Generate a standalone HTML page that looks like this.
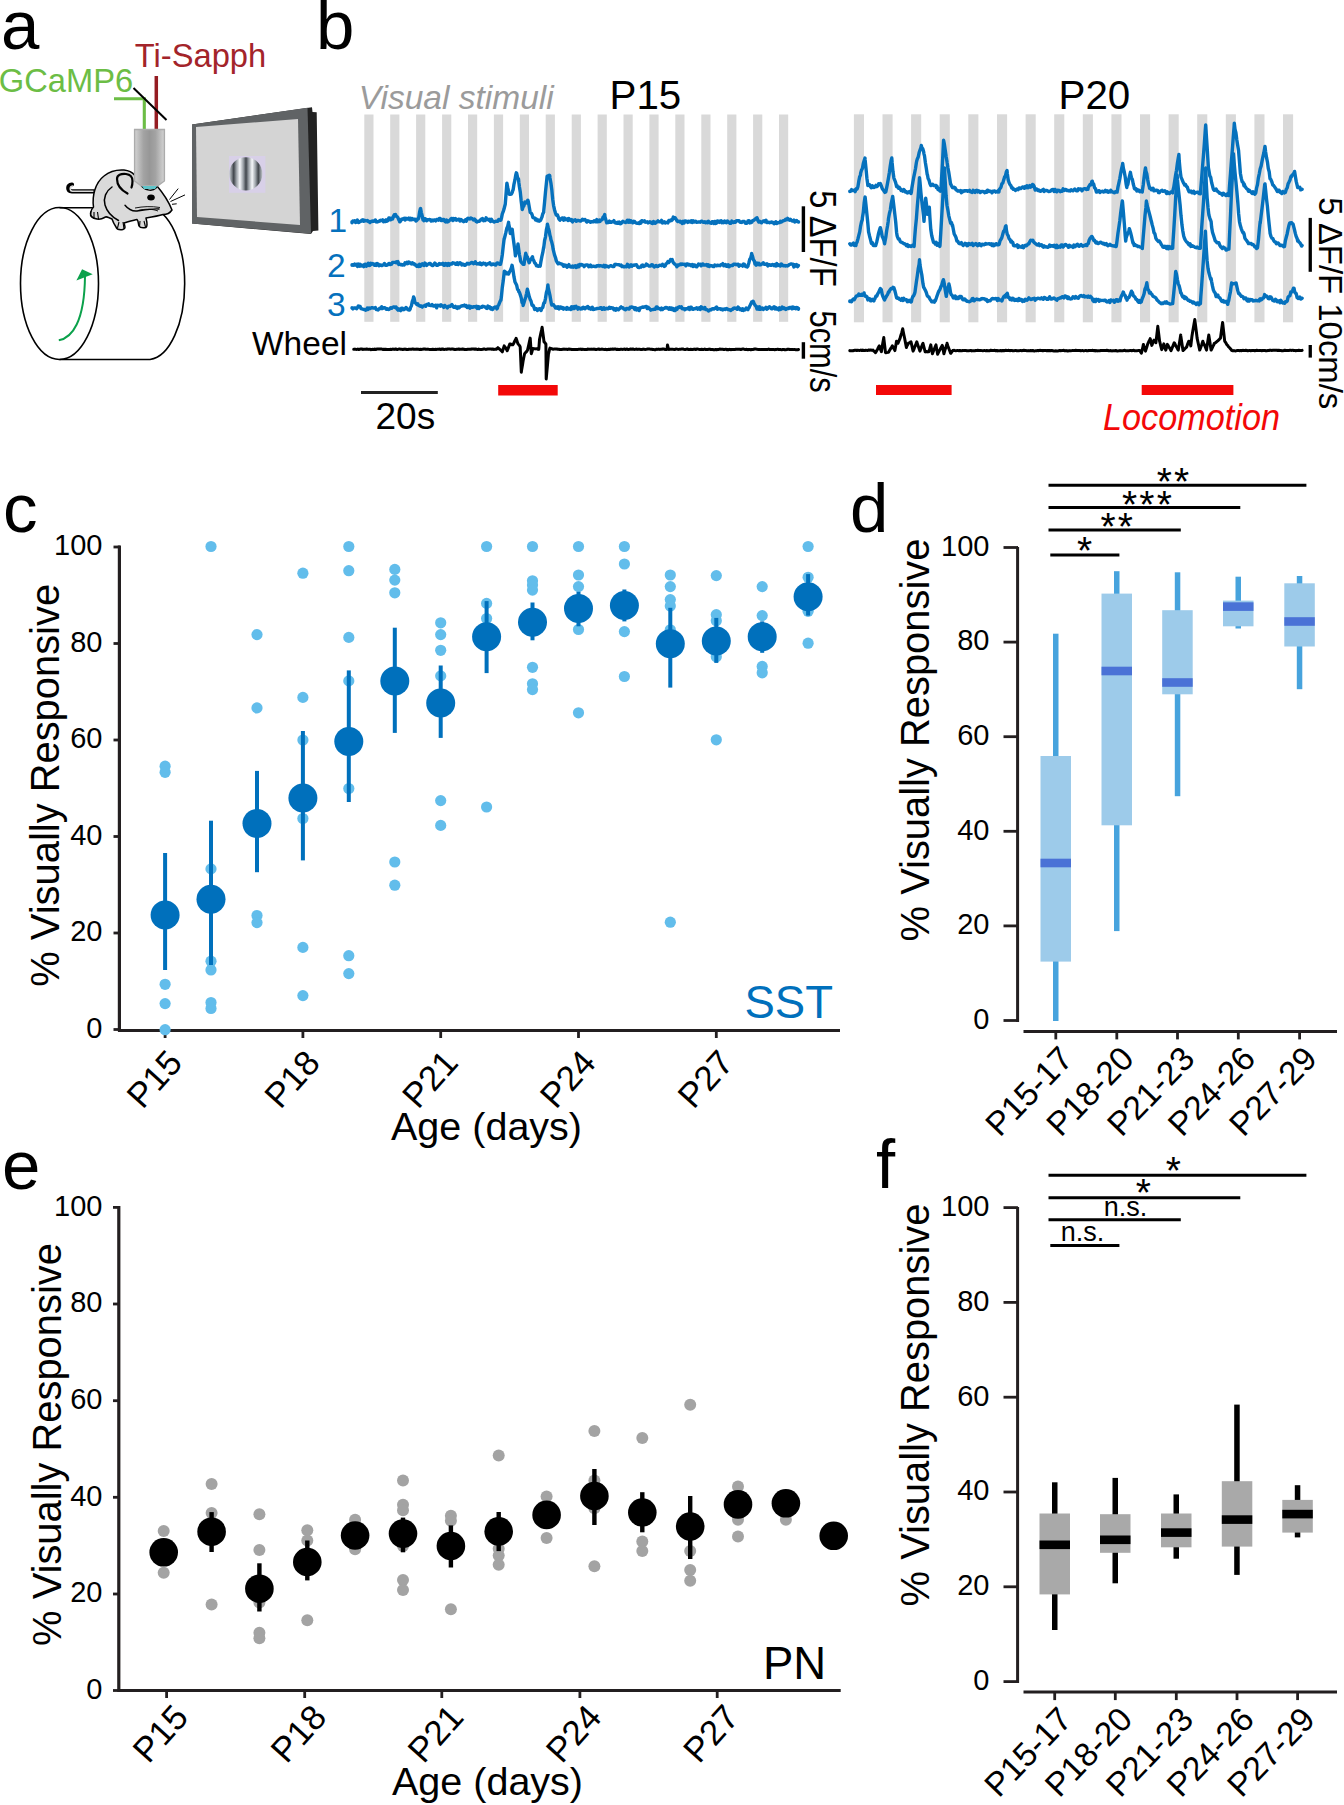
<!DOCTYPE html><html><head><meta charset="utf-8"><style>html,body{margin:0;padding:0;background:#fff;width:1344px;height:1805px;overflow:hidden}svg{display:block}text{font-family:"Liberation Sans",sans-serif}</style></head><body><svg width="1344" height="1805" viewBox="0 0 1344 1805" font-family="Liberation Sans, sans-serif">
<rect width="1344" height="1805" fill="#fff"/>
<text x="1" y="49" font-size="69" fill="#000" text-anchor="start" >a</text>
<text x="316" y="49" font-size="69" fill="#000" text-anchor="start" >b</text>
<text x="-1.3" y="92" font-size="32.7" fill="#6cbd45" text-anchor="start" >GCaMP6</text>
<text x="134.8" y="67.3" font-size="32.7" fill="#a3242a" text-anchor="start" >Ti-Sapph</text>
<path d="M114 98.8 H144.3 V130" fill="none" stroke="#6cbd45" stroke-width="3.1"/>
<path d="M156.3 76 V130" fill="none" stroke="#951c22" stroke-width="3.5"/>
<path d="M133.5 88 L166.5 120" fill="none" stroke="#000" stroke-width="2"/>
<path d="M192 124.5 L312 107.3 L312.5 112 L316.7 112.3 L318.4 230.6 L313 231 L311 234 L192 223.5 Z" fill="#222"/>
<path d="M192 124.5 L307.5 107.8 L311 233.8 L192 223.5 Z" fill="#606365"/>
<path d="M196 127 L298 119 L300 225 L197 217 Z" fill="#d4d4d4"/>
<rect x="229" y="156" width="36.4" height="36.8" fill="#d8d0e8"/>
<defs><linearGradient id="sine" gradientUnits="userSpaceOnUse" x1="233.7" y1="0" x2="246" y2="0" spreadMethod="repeat"><stop offset="0" stop-color="#40454b"/><stop offset="0.22" stop-color="#9aa0a6"/><stop offset="0.5" stop-color="#f6f8fb"/><stop offset="0.78" stop-color="#9aa0a6"/><stop offset="1" stop-color="#40454b"/></linearGradient></defs>
<circle cx="245.8" cy="173.8" r="16.6" fill="url(#sine)"/>
<g fill="none" stroke="#000" stroke-width="1.6"><ellipse cx="59.5" cy="283.5" rx="39" ry="76"/><path d="M59.5 207.8 H150 A37 76 0 0 1 150 359.5 H59.5"/></g>
<path d="M58.8 340.3 C72 338 84.5 322 85 276" fill="none" stroke="#0ba14b" stroke-width="2"/>
<path d="M76.4 280.6 L82.1 269.2 L92.7 274.2 Z" fill="#0ba14b"/>
<path d="M94 191.3 H72 C67 191 67 185 72 184.5" fill="none" stroke="#000" stroke-width="4.2" stroke-linecap="round"/>
<path d="M93 191.3 H72.5 C69.5 191 69.5 186.5 72.5 186" fill="none" stroke="#d9d9d9" stroke-width="1.6" stroke-linecap="round"/>
<path d="M93.5 207 C92 196 95 183 104 176 C110 171 117 169.5 124 170 C128 170.5 132 172 134.5 175 L141 185 C144 190 152 192 156 188 L157 186 C163 193 168 200 172 210 C170 213 166 214.5 163 214.5 C158 216 152 217 146 218 C147 222 148 226 146 227.5 C143 228 140 228 139 226 C138 223 138.5 221 137 219.5 C133 220.5 128 221.5 124 223 C125 226 126 229 123 229.5 C120 230 117 230 116 227 C114 224 113 222 112 219 C108 217 106 216 104.5 217.5 C102 219 100 219.5 97 219 C94 218.5 90 217 90.5 213 C91 210 92 208.5 93.5 207 Z" fill="#dadada" stroke="#000" stroke-width="1.5" stroke-linejoin="round"/>
<path d="M127.5 193.5 C121 190 117 185 117 179 C117 175 121 173.5 126 174 C130 174.5 132.5 177 132.5 181 C132.5 184 132 186 131.5 187.5" fill="none" stroke="#000" stroke-width="2.2" stroke-linecap="round"/>
<path d="M112 187 C106 191 103 198 105 205 C107 212 112 217 118.5 220.5" fill="none" stroke="#000" stroke-width="1.5" stroke-linecap="round"/>
<path d="M125 205.3 C128 209 131 211.5 137 211 C144 210 152 208.5 159 209" fill="none" stroke="#000" stroke-width="1.4" stroke-linecap="round"/>
<path d="M135 208 C143 206.5 151 206 160 207.5 M138 210.5 C146 208.5 153 209 158 211" fill="none" stroke="#000" stroke-width="0.9"/>
<ellipse cx="151" cy="197.5" rx="3.8" ry="3" fill="#000"/>
<path d="M169.5 199.5 L178.2 188.6 M170.5 201.5 L185 194.9 M172 204.3 L176.7 203.8" fill="none" stroke="#000" stroke-width="1"/>
<path d="M91 211 L90.5 216 M94 212 L94 218.5 M97.5 212 L98.5 219 M119 222 L117.5 228 M123 222 L124 229 M140 221 L139.5 227 M144 221 L145.5 227" fill="none" stroke="#000" stroke-width="1.1"/>
<defs><linearGradient id="obj" x1="0" x2="1" y1="0" y2="0"><stop offset="0" stop-color="#d4d4d4"/><stop offset="0.3" stop-color="#a3a3a3"/><stop offset="0.5" stop-color="#979797"/><stop offset="0.7" stop-color="#a3a3a3"/><stop offset="1" stop-color="#d4d4d4"/></linearGradient><radialGradient id="grat" cx="0.5" cy="0.5" r="0.5"><stop offset="0" stop-color="#888"/><stop offset="1" stop-color="#bbb"/></radialGradient></defs>
<path d="M134.6 129.5 H164.4 V181 L157.8 185.7 H141.1 L134.6 181 Z" fill="url(#obj)" stroke="#acacac" stroke-width="1.4"/>
<path d="M142 186 H157 L155 189 H144 Z" fill="#5fc4c9"/>
<rect x="364.3" y="114.5" width="9.2" height="207.3" fill="#d9d9d9"/><rect x="390.2" y="114.5" width="9.2" height="207.3" fill="#d9d9d9"/><rect x="416.1" y="114.5" width="9.2" height="207.3" fill="#d9d9d9"/><rect x="442.1" y="114.5" width="9.2" height="207.3" fill="#d9d9d9"/><rect x="468.0" y="114.5" width="9.2" height="207.3" fill="#d9d9d9"/><rect x="493.9" y="114.5" width="9.2" height="207.3" fill="#d9d9d9"/><rect x="519.8" y="114.5" width="9.2" height="207.3" fill="#d9d9d9"/><rect x="545.7" y="114.5" width="9.2" height="207.3" fill="#d9d9d9"/><rect x="571.7" y="114.5" width="9.2" height="207.3" fill="#d9d9d9"/><rect x="597.6" y="114.5" width="9.2" height="207.3" fill="#d9d9d9"/><rect x="623.5" y="114.5" width="9.2" height="207.3" fill="#d9d9d9"/><rect x="649.4" y="114.5" width="9.2" height="207.3" fill="#d9d9d9"/><rect x="675.3" y="114.5" width="9.2" height="207.3" fill="#d9d9d9"/><rect x="701.3" y="114.5" width="9.2" height="207.3" fill="#d9d9d9"/><rect x="727.2" y="114.5" width="9.2" height="207.3" fill="#d9d9d9"/><rect x="753.1" y="114.5" width="9.2" height="207.3" fill="#d9d9d9"/><rect x="779.0" y="114.5" width="9.2" height="207.3" fill="#d9d9d9"/><rect x="853.9" y="114.3" width="10.1" height="208" fill="#d9d9d9"/><rect x="882.5" y="114.3" width="10.1" height="208" fill="#d9d9d9"/><rect x="911.1" y="114.3" width="10.1" height="208" fill="#d9d9d9"/><rect x="939.7" y="114.3" width="10.1" height="208" fill="#d9d9d9"/><rect x="968.3" y="114.3" width="10.1" height="208" fill="#d9d9d9"/><rect x="997.0" y="114.3" width="10.1" height="208" fill="#d9d9d9"/><rect x="1025.6" y="114.3" width="10.1" height="208" fill="#d9d9d9"/><rect x="1054.2" y="114.3" width="10.1" height="208" fill="#d9d9d9"/><rect x="1082.8" y="114.3" width="10.1" height="208" fill="#d9d9d9"/><rect x="1111.4" y="114.3" width="10.1" height="208" fill="#d9d9d9"/><rect x="1140.0" y="114.3" width="10.1" height="208" fill="#d9d9d9"/><rect x="1168.6" y="114.3" width="10.1" height="208" fill="#d9d9d9"/><rect x="1197.2" y="114.3" width="10.1" height="208" fill="#d9d9d9"/><rect x="1225.8" y="114.3" width="10.1" height="208" fill="#d9d9d9"/><rect x="1254.4" y="114.3" width="10.1" height="208" fill="#d9d9d9"/><rect x="1283.0" y="114.3" width="10.1" height="208" fill="#d9d9d9"/>
<text x="358.8" y="108.6" font-size="33.5" fill="#9b9b9b" text-anchor="start" font-style="italic">Visual stimuli</text>
<text x="609.5" y="109.2" font-size="40.3" fill="#000" text-anchor="start" >P15</text>
<text x="1058.5" y="109" font-size="40.3" fill="#000" text-anchor="start" >P20</text>
<path d="M352 221.6 L352 222.7 L352.9 220.9 L353.8 221.4 L354.7 220.7 L355.6 222.5 L356.5 222 L357.4 220.1 L358.3 222.5 L359.2 222.3 L360.1 221.4 L361 221.3 L361.9 220.1 L362.8 219.8 L363.7 221.3 L364.6 220.2 L365.5 220.7 L366.4 220.9 L367.3 220.4 L368.2 221.6 L369.1 221.5 L370 222.5 L370.9 221.4 L371.8 221.6 L372.7 221 L373.6 221.3 L374.5 220.6 L375.4 220 L376.3 221.9 L377.2 222 L378.1 221.7 L379 221.4 L379.9 220.5 L380 221 L380.8 220.3 L381.7 220.5 L382.6 219.9 L383.5 221.7 L384.4 220.5 L385.3 221.5 L386.2 219.9 L387.1 221.2 L388 220.5 L388.9 217.9 L389.8 218.2 L390.7 219.8 L391.6 218.4 L392 219 L392.5 219.1 L393.4 216.6 L394.3 214.7 L395.2 215.3 L395.6 214.5 L396.1 216.2 L397 216.5 L397.9 217.6 L398.8 219.8 L399 220 L399.7 221.8 L400.6 221.1 L401.5 219.2 L402.4 219.4 L403.3 218.7 L404.2 218.3 L405.1 220.1 L406 218.2 L406.9 219.1 L407.8 218.8 L408.7 218.1 L409.6 219.7 L410.5 218.2 L411.4 219.8 L412.3 218.6 L413.2 219.5 L414.1 219.1 L415 219.2 L415.9 221 L416.8 220.4 L417.7 218.8 L418.2 219 L418.6 218.4 L419.5 212.4 L420.4 208.7 L420.6 208.5 L421.3 212.3 L422.2 215.9 L423 220 L423.1 218.2 L424 220.7 L424.9 218.7 L425.8 219 L426.7 220.7 L427.6 219.7 L428.5 219.9 L429.4 219.5 L430.3 219.6 L431.2 221 L432.1 220 L433 220.8 L433.9 219.9 L434.8 219.9 L435.7 221 L436.6 219.5 L437.5 219.5 L438.4 220.2 L439.3 218.4 L440.2 218.4 L441.1 220.6 L442 220.6 L442.9 219.4 L443.8 219.5 L444.7 221.2 L445.6 221.9 L446.5 220 L447.4 222 L448.3 221.7 L449.2 220.7 L450.1 220 L451 218.8 L451.9 218.4 L452.8 220.6 L453.7 218.5 L454.6 219.7 L455.5 218.6 L456.4 220.2 L457.3 219.9 L458.2 219.3 L459.1 219.3 L460 221.1 L460.9 219.5 L461.8 220.1 L462.7 221 L463.6 221.7 L464.5 220.9 L465.4 219.8 L466.3 221.2 L467.2 218.9 L468.1 218.2 L469 218.6 L469.9 219 L470.8 217.9 L471.7 218.4 L472.6 219.1 L473.5 219.9 L474.4 219 L475.3 219.9 L476.2 221.6 L477.1 222.1 L478 221.3 L478.9 221.4 L479.8 221 L480.7 219.6 L481.6 219 L482.5 218.6 L483.4 220.7 L484.3 219.9 L485.2 220.4 L486.1 217.8 L487 219.5 L487.9 219.2 L488.8 220.1 L489.7 219.3 L490.6 221.5 L491.5 219.3 L492.4 220.8 L493.3 221.5 L494.2 222 L495.1 221.5 L496 221.2 L496.9 221.2 L497.8 221.2 L498.7 219.4 L499.6 220 L500.5 220.3 L500.9 220 L501.4 218.3 L502.3 213.8 L503.2 211.7 L504.1 208.8 L505 205 L505.2 204.5 L505.9 196 L506.8 184.3 L506.9 183.1 L507.7 187.4 L508.6 191.7 L509.4 194.2 L509.5 193.9 L510.4 194.3 L511.3 194.1 L512.2 192.5 L512.9 190 L513.1 189.9 L514 184.1 L514.9 180.2 L515.8 174.9 L516.3 172.8 L516.7 173.3 L517.6 177.7 L518.5 179 L518.8 182.2 L519.4 186.8 L520.3 192.1 L521.2 201 L522.1 208.1 L522.3 209.6 L523 207.1 L523.9 205.9 L524.8 202.7 L524.8 201.9 L525.7 202.6 L526.6 202.9 L527.5 200.5 L527.9 200.2 L528.4 202 L529.3 207.3 L530 211.3 L530.2 212.3 L531.1 213 L532 214.4 L532.9 217.6 L533.8 217.8 L534.7 218.1 L535.6 220 L536.5 219.1 L537.4 220.7 L538.3 220 L539.2 221.1 L539.4 220.8 L540.1 220.8 L541 219.3 L541.9 217.2 L542.8 213.8 L543.7 212.2 L543.7 211.3 L544.6 201.9 L545.5 191.9 L546.4 183.2 L547.1 176.3 L547.3 176.6 L548.2 176.1 L549.1 175.3 L549.7 175.4 L550 178 L550.9 183 L551.8 189.7 L552.2 194.2 L552.7 199.2 L553.6 205.6 L554.5 209.7 L555.4 212.8 L556.3 215 L557.2 215.5 L557.4 214.8 L558.1 216.6 L559 219.2 L559.9 220.2 L560.8 219.1 L561.7 218.2 L562.6 218 L563.5 220.2 L564.2 219.9 L564.4 217.9 L565.3 219.7 L566.2 219.4 L567.1 218.8 L568 220.4 L568.9 218.6 L569.8 219.3 L570.7 220.5 L571.6 219.6 L572.5 221.9 L573.4 220.4 L574.3 220.2 L575.2 219.8 L576.1 221.2 L577 220.4 L577.9 220.7 L578.8 220.5 L579.7 220.8 L580.6 221.1 L581.5 220.4 L582.4 219.2 L583.3 220.1 L584.2 219.6 L585.1 219.5 L586 221 L586.9 222 L587.8 220.7 L588.7 221.1 L589.6 221.4 L590.5 222.3 L591.4 221.7 L592.3 221.7 L593.2 221.9 L594.1 220.7 L595 221.6 L595.9 221.8 L596.8 219.5 L597.7 221.8 L598.6 221.4 L599.5 220 L600 221.5 L600.4 220.6 L601.3 220 L602.2 219.6 L603.1 217.1 L604 216.4 L604.7 214.5 L604.9 216.9 L605.8 219.6 L606.7 222.8 L607 222 L607.6 222.3 L608.5 222.5 L609.4 221.1 L610.3 222.3 L611.2 222.3 L612.1 221.7 L613 221.9 L613.9 220.6 L614.8 222.6 L615.7 223 L616.6 223.2 L617.5 222.3 L618.4 223.2 L619.3 222 L620.2 223.7 L621.1 223.6 L622 222.2 L622.9 221.3 L623.8 222.1 L624.7 222.1 L625.6 222.5 L626.5 221.6 L627.4 220.2 L628.3 222.2 L629.2 220.2 L630.1 222.3 L631 220.8 L631.9 221.4 L632.8 222.8 L633.7 221.3 L634.6 221.5 L635.5 222.6 L636.4 223.2 L637.3 223.4 L638.2 222.9 L639.1 223.5 L640 222.1 L640.9 223.1 L641.8 220.6 L642.7 220.8 L643.6 221.6 L644.5 220.9 L645.4 222.2 L646.3 222 L647.2 221.8 L648.1 222.9 L649 222.3 L649.9 221.8 L650.8 222.1 L651.7 223.4 L652.6 223.5 L653.5 221.6 L654.4 223.2 L655.3 223.4 L656.2 222 L657.1 222 L658 220.9 L658.9 221.7 L659.8 221.6 L660.7 221.9 L661.6 220.4 L662.5 223 L663.4 222 L664.3 221.8 L665.2 223 L666.1 222.5 L667 222.3 L667.9 222.9 L668 222 L668.8 220.6 L669.7 221.1 L670.6 220 L671.5 220.6 L672.4 219.7 L673.3 217.1 L673.3 218 L674.2 218.2 L675.1 217.7 L676 219.1 L676.9 220.7 L677.8 221.6 L678.7 221.1 L679.6 221.3 L680 222 L680.5 221.3 L681.4 222.6 L682.3 223.4 L683.2 221.3 L684.1 223 L685 220.9 L685.9 221.3 L686.8 221.3 L687.7 222.4 L688.6 221.3 L689.5 221.4 L690.4 222 L691.3 220.7 L692.2 222.4 L693.1 220.8 L694 222 L694.9 221.4 L695.8 221.3 L696.7 222.3 L697.6 222.1 L698.5 221.9 L699.4 222 L700.3 222.2 L701.2 221.2 L702.1 221.2 L703 222.2 L703.9 222.2 L704.8 221.8 L705.7 222.7 L706.6 222.1 L707.5 222.8 L708.4 221.2 L709.3 222.6 L710.2 222.9 L711.1 223.3 L712 221.7 L712.9 221.7 L713.8 223.4 L714.7 221.4 L715.6 223.5 L716.5 223.1 L717.4 220.9 L718.3 221.1 L719.2 222.4 L720.1 221.1 L721 220.7 L721.9 222.7 L722.8 221.6 L723.7 222.7 L724.6 221 L725.5 221.9 L726.4 222.7 L727.3 221 L728.2 221.5 L729.1 222.7 L730 223.3 L730.9 223.4 L731.8 221 L732.7 221.9 L733.6 222.5 L734.5 221.7 L735.4 222.2 L736.3 220.9 L737.2 220.6 L738.1 220.8 L739 220.7 L739.9 222.2 L740.8 222.2 L741.7 222.5 L742.6 221.4 L743.5 221.5 L744.4 221.5 L745.3 223.1 L746.2 223.4 L747.1 223.1 L748 220.8 L748.9 220.6 L749.8 222.9 L750.7 221.5 L751.6 222.4 L752 222 L752.5 220.8 L753.4 220.4 L754.3 219.9 L755.2 219 L756.1 218.8 L756.4 218 L757 217.7 L757.9 220.6 L758.8 222 L759.7 221.2 L760 222 L760.6 222.2 L761.5 222.8 L762.4 221.8 L763.3 221 L764.2 220.8 L765.1 221.7 L766 220.3 L766.9 222.6 L767.8 222.4 L768.7 222.3 L769.6 222.8 L770.5 222.4 L771.4 221.9 L772.3 222.6 L773.2 222.5 L774.1 223.8 L775 223.3 L775.9 221.7 L776.8 223.4 L777.7 222.7 L778.6 222.7 L779.5 222.6 L780 222 L780.4 221.2 L781.3 222 L782.2 221.5 L783.1 220.6 L784 220.5 L784.9 220.3 L785.8 219.1 L786.6 219 L786.7 219.8 L787.6 218.4 L788.5 219.5 L789.4 220.2 L790.3 219.2 L791.2 220.3 L792.1 221.1 L793 221.1 L793.9 220.1 L794.8 222 L795.7 221.3 L796.6 220.5 L797.5 221.6 L798.4 221.6 L798.5 222" fill="none" stroke="#0571bd" stroke-width="3.4" stroke-linejoin="round" stroke-linecap="round"/>
<path d="M352 264.8 L352 265.3 L352.9 264.8 L353.8 265.3 L354.7 264.1 L355.6 265 L356.5 264.3 L357.4 266.4 L358.3 264.1 L359.2 266.2 L360.1 264.2 L361 266 L361.9 265.2 L362.8 265.5 L363.7 266.7 L364.6 264.4 L365.5 264.2 L366.4 266.2 L367.3 264.7 L368.2 263.3 L369.1 265.5 L370 265.4 L370.9 263.2 L371.8 264.2 L372.7 263.6 L373.6 264.3 L374.5 265.2 L375.4 264 L376.3 265.4 L377.2 263.6 L378.1 264 L379 265.8 L379.9 264.9 L380.8 265 L381.7 265.6 L382.6 265.2 L383.5 264.8 L384.4 263.5 L385.3 265.1 L386.2 265.4 L387.1 265.2 L388 264.3 L388.9 263.5 L389.8 263.7 L390 264.5 L390.7 264.5 L391.6 264.2 L392.5 262.5 L393.4 262.4 L394.3 262.4 L395.2 262.4 L396.1 262.8 L396.5 261.8 L397 262.2 L397.9 261.6 L398.8 264.4 L399.7 264 L400.6 264.8 L401.5 264.4 L402 265 L402.4 265 L403.3 264.4 L404.2 264.9 L405.1 262.7 L406 263.6 L406.9 262.4 L407.8 263.7 L408.7 261.9 L409.6 262.5 L410 263 L410.5 262.9 L411.4 264 L412.3 262.7 L413.2 264.1 L414.1 263.7 L415 264.3 L415 265 L415.9 264.9 L416.8 266.3 L417.7 265.2 L418.6 266.5 L419.5 264.3 L420.4 266.2 L421.3 264.5 L422.2 263.8 L423.1 265.1 L424 265.5 L424.9 263 L425.8 263.9 L426.7 265.4 L427.6 264.3 L428.5 264.1 L429.4 263.4 L430.3 263.4 L431.2 264.8 L432.1 265.6 L433 265.6 L433.9 264.2 L434.8 263 L435.7 263.9 L436.6 265.3 L437.5 265.4 L438.4 264.8 L439.3 263.6 L440.2 264.2 L441.1 263.9 L442 264.2 L442.9 263.3 L443.8 265.3 L444.7 265.3 L445.6 263.5 L446.5 263.9 L447.4 265.4 L448.3 263.6 L449.2 265.2 L450.1 263.8 L451 264.1 L451.9 264.1 L452.8 262.8 L453.7 263 L454.6 263.1 L455.5 264.3 L456.4 264.3 L457.3 262.7 L458.2 264.6 L459.1 263.3 L460 262.7 L460.9 263.3 L461.8 264.9 L462.7 264 L463.6 264.3 L464.5 265.2 L465.4 265.2 L466.3 264.5 L467.2 263.3 L468.1 263.5 L469 264.1 L469.9 263.6 L470.8 263 L471.7 262.4 L472.6 262.6 L473.5 263.7 L474.4 263.3 L475.3 261.8 L476.2 263.5 L477.1 264 L478 263.7 L478.9 264 L479.8 264.2 L480 263 L480.7 263.5 L481.6 264.6 L482.5 263.7 L483.4 263.1 L484.3 263.8 L485.2 263.5 L486.1 265 L487 264.2 L487.9 263.7 L488.8 263.9 L489.7 262.7 L490.6 264.1 L491.5 264.8 L492.4 264.1 L493.3 263.9 L494.2 264.4 L495 265 L495.1 264.3 L496 264.9 L496.9 263.2 L497.8 262.9 L498.7 263.4 L499.6 264.3 L500.5 264.3 L500.9 262.7 L501.4 260.4 L502.3 254.7 L503.2 246.6 L504.1 239 L504.3 238.7 L505 236 L505.9 232.4 L506.8 228.3 L507.7 226.4 L508.6 222.3 L508.6 223.3 L509.5 227.6 L510.3 233.6 L510.4 232.5 L511.3 232 L512 229.3 L512.2 229.3 L513.1 237.2 L514 244 L514.9 250.9 L515.4 255.8 L515.8 253.8 L516.7 249.4 L517.6 247.4 L518 243.9 L518.5 248 L519.4 254.5 L520.3 258.9 L520.6 261 L521.2 262.1 L522.1 263.1 L523 264.3 L523.9 263.3 L524 264.4 L524.8 258.5 L525.7 253.7 L525.7 253.3 L526.6 256.1 L527.5 257.1 L528.4 260.5 L529.1 262.7 L529.3 262.7 L530.2 260.2 L531.1 259.3 L532 257.7 L532.5 256.7 L532.9 259.2 L533.8 260.7 L534.7 263 L535.6 263.7 L536.5 265.8 L537.4 265.5 L538.3 266.4 L539.2 266.2 L540.1 266 L540.2 266.1 L541 261.1 L541.9 256.4 L542.8 252.4 L543.7 246.9 L543.7 248.1 L544.6 240.5 L545.5 236.8 L546.4 229.7 L547.3 225.8 L547.4 224.2 L548.2 227.5 L549.1 230.6 L550 235.6 L550.5 237 L550.9 239.6 L551.8 242.3 L552.7 246.2 L553.1 249 L553.6 251.2 L554.5 254.9 L555.4 257.3 L556.3 260.7 L557.2 262.5 L557.4 262.7 L558.1 263.8 L559 263 L559.9 263.6 L560.8 263.7 L561.7 264.1 L562.6 264.6 L563.5 266.2 L564.2 266.1 L564.4 265 L565.3 265.1 L566.2 265.3 L567.1 267.2 L568 265.9 L568.9 264.6 L569.8 266.7 L570.7 267 L571.6 267 L572.5 266 L573.4 267.2 L574.3 266.1 L575.2 265.7 L576.1 267.5 L577 267.1 L577.9 265.2 L578.8 266.8 L579.7 264.4 L580.6 265.1 L581.5 264.4 L582.4 265 L583.3 265.1 L584.2 266.6 L585.1 265.4 L586 265 L586.9 264.9 L587.8 265.2 L588.7 266.7 L589.6 266.2 L590.5 265 L591.4 266.7 L592.3 266.5 L593.2 266.2 L594.1 266.3 L595 266.5 L595.9 266.7 L596.8 265.7 L597.7 266 L598.6 265.5 L599.5 266.1 L600.4 265.6 L601.3 265.8 L602.2 266.1 L603.1 266.6 L604 265.3 L604.9 266.9 L605.8 265.6 L606.7 266.6 L607.6 266.2 L608.5 267 L609.4 266.4 L610.3 265.8 L611.2 265.8 L612.1 266.3 L613 266.5 L613.9 266.6 L614.8 264.5 L615.7 264.3 L616.6 264.5 L617.5 264.6 L618.4 264.7 L619.3 264.7 L620.2 265.5 L621.1 265.1 L622 266.6 L622.9 266.2 L623.8 266.9 L624.7 266.8 L625.6 266.2 L626.5 266.7 L627.4 264.3 L628.3 265 L629.2 266.9 L630.1 265.7 L631 264.8 L631.9 266.2 L632.8 265.1 L633.7 265.4 L634.6 264.9 L635.5 264.9 L636.4 264.7 L637.3 266.3 L638.2 267.4 L639.1 267.6 L640 266.9 L640.9 267.1 L641.8 265.4 L642.7 265 L643.6 266.5 L644.5 265.6 L645.4 265.8 L646.3 264.1 L647.2 264.7 L648.1 265.4 L649 266 L649.9 266.1 L650.8 265.8 L651.7 264.7 L652.6 264.9 L653.5 266.4 L654.4 267 L655.3 265.9 L656.2 265.4 L657.1 266.6 L658 266.4 L658.9 265.7 L659.8 265.1 L660.7 265.3 L661.6 265.7 L662.5 264.3 L663.4 265.3 L664.3 266.5 L665 265.5 L665.2 265.8 L666.1 263.7 L667 263.3 L667.9 261.6 L668.8 262.5 L669.7 261.4 L670.6 259.5 L671.5 260 L672.2 259.5 L672.4 260.4 L673.3 262.6 L674.2 263.6 L675.1 264.3 L676 264.9 L676.9 266.8 L677.8 265 L678 265 L678.7 265.2 L679.6 264.9 L680.5 263.9 L681.4 264.5 L682.3 264 L683.2 264.3 L684.1 264.4 L685 264.3 L685.9 265.8 L686.8 263.9 L687.7 264 L688.6 264.9 L689.5 264.4 L690.4 265.1 L691.3 265.8 L692.2 264.5 L693.1 266.4 L694 264.9 L694.9 265.2 L695.8 266.6 L696.7 266.8 L697.6 265.7 L698.5 264.1 L699.4 264.8 L700.3 264.3 L701.2 265.8 L702.1 264.2 L703 264 L703.9 265.1 L704.8 265 L705.7 264.8 L706.6 264.5 L707.5 266 L708.4 264.9 L709.3 266.5 L710.2 265.4 L711.1 265.9 L712 265.7 L712.9 266.6 L713.8 266.6 L714.7 265 L715.6 265.5 L716.5 265.8 L717.4 265.1 L718.3 265.5 L719.2 265.4 L720.1 265.7 L721 264.7 L721.9 264.5 L722.8 263.6 L723.7 265.8 L724.6 265.5 L725.5 264.5 L726.4 266.3 L727.3 266.4 L728.2 264.7 L729.1 266.8 L730 265.9 L730.9 265.6 L731.8 265.3 L732.7 265.5 L733.6 264.3 L734.5 264.2 L735.4 264.2 L736.3 264.7 L737.2 264.4 L738.1 264.3 L739 266.2 L739.9 265 L740.8 265.1 L741.7 265.3 L742.6 266.1 L743.5 264 L744.4 264.4 L745.3 266.3 L746.2 266.7 L747.1 267 L748 266.1 L748 265.5 L748.9 262.7 L749.8 259.2 L750.7 257.9 L751.6 254.3 L751.6 253.5 L752.5 256.3 L753.4 259.7 L754.3 261 L755 264 L755.2 264 L756.1 265.1 L757 263.1 L757.9 264.5 L758.8 263.2 L759.7 264.9 L760.6 264.8 L761.5 264.2 L762.4 263.7 L763.3 262.8 L764.2 264.3 L765.1 264.2 L766 264.5 L766.9 263.7 L767.8 265.9 L768.7 264.7 L769.6 264.7 L770.5 265.3 L771.4 265.4 L772.3 264.5 L773.2 264.6 L774.1 265.6 L775 264.5 L775.9 266 L776.8 263.6 L777.7 265.6 L778.6 264.8 L779.5 265 L780.4 266 L781.3 264 L782.2 264.6 L783.1 265.9 L784 265.9 L784.9 265.4 L785.8 266 L786.7 265.6 L787.6 266 L788.5 265.3 L789.4 264.4 L790.3 264.3 L791.2 263.9 L792.1 264.3 L793 264.3 L793.9 267 L794.8 264.8 L795.7 266 L796.6 264.6 L797.5 266.7 L798.4 265.5 L798.5 265.5" fill="none" stroke="#0571bd" stroke-width="3.4" stroke-linejoin="round" stroke-linecap="round"/>
<path d="M352 307.7 L352 308 L352.9 308.9 L353.8 307.9 L354.7 307.9 L355.6 308 L356.5 308.7 L357.4 307.8 L358.3 306 L359.2 306.6 L360.1 306.4 L361 308.6 L361.9 308.8 L362.8 309.2 L363.7 309.5 L364.6 309.5 L365.5 310.2 L366.4 309.7 L367.3 308 L368.2 309.4 L369.1 308.1 L370 308.6 L370.9 308 L371.8 307.7 L372.7 307.7 L373.6 308.1 L374.5 308 L375.4 307.6 L376.3 309.6 L377.2 309.5 L378.1 309.9 L379 308.8 L379.9 308.2 L380.8 308.6 L381.7 306.8 L382.6 308.4 L383.5 308 L384.4 307.6 L385.3 308 L386.2 309.2 L387.1 308.7 L388 309.4 L388.9 309.6 L389.8 308.8 L390.7 307.7 L391.6 308.3 L392.5 307.3 L393.4 307 L394.3 306.9 L395.2 307.5 L396.1 307 L397 308.9 L397.9 310.1 L398.8 308.9 L399.7 310 L400.6 310.6 L401.5 308.1 L402.4 308.1 L403.3 309.7 L404.2 309.5 L405.1 308.8 L406 307.5 L406.9 308.3 L407.8 309.7 L408.7 310 L409.6 310 L410.2 308.9 L410.5 307.5 L411.4 306 L412.3 301.4 L413.2 299 L413.6 296.9 L414.1 298 L415 302.8 L415.9 303.2 L416.8 304.5 L417.7 303.7 L418.6 305.4 L418.7 305.5 L419.5 305.7 L420.4 306.2 L421.3 305.9 L422.2 307.1 L423.1 306.1 L424 305.9 L424.9 305.3 L425.8 306.3 L426.7 304.4 L427.6 304.4 L428.5 303.8 L429.4 305.4 L430.3 305.3 L431.2 305.6 L432.1 304.5 L433 306 L433.9 306 L434.8 305.5 L435.7 305.2 L436.6 307.8 L437.5 305.3 L438.4 305.6 L439.3 305.3 L440.2 306.1 L441.1 304.8 L442 306 L442.9 305.9 L443.8 307.4 L444.7 305.4 L445.6 306.3 L446.5 306.7 L447.4 307.9 L448.3 306.4 L449.2 306.1 L450.1 306.4 L451 305.3 L451.9 304.6 L452.8 306 L453.7 307.4 L454.6 307.3 L455.5 306.4 L456.4 307.8 L457.3 308.5 L458.2 306.9 L459.1 307.7 L460 306.8 L460.9 306.2 L461.8 306.1 L462.7 305.6 L463.6 305.9 L464.5 305.1 L465.4 306.2 L466.3 305.6 L467.2 307.6 L468.1 307.4 L469 306 L469.9 308.2 L470.8 306.6 L471.7 307.3 L472.6 307.4 L473.5 306.7 L474.4 306.6 L475.3 307 L476.2 306.3 L477.1 308.4 L478 306.5 L478.9 308.6 L479.8 307 L480.7 307.3 L481.6 307.4 L482.5 306.3 L483.4 306.4 L484.3 306.8 L485.2 306.9 L486.1 308.1 L487 308.4 L487.9 306.1 L488.8 307.6 L489.7 306.8 L490.6 308.9 L491.5 307.8 L492.4 309.5 L493.3 308.6 L494.2 307.4 L495.1 306.9 L496 307.4 L496.9 308.9 L497.5 308 L497.8 306.1 L498.7 304.9 L499.6 302.6 L500.5 300.5 L500.9 300.3 L501.4 296.6 L502.3 287.4 L503.2 281.1 L504.1 273.3 L504.3 271.2 L505 272.8 L505.9 272.2 L506.8 273.8 L507.7 273 L508.6 274 L508.6 273.8 L509.5 271.9 L510.4 270.3 L511.3 268.3 L512 265.3 L512.2 265.7 L513.1 270.8 L514 276.9 L514.6 279.8 L514.9 281.8 L515.8 283.5 L516.7 285.3 L517.6 289.5 L518.5 290.1 L518.8 291.8 L519.4 292.2 L520.3 294.9 L521.2 297.8 L522.1 302.6 L523 303.9 L523.1 305.5 L523.9 303 L524.8 300.1 L525.7 297.2 L526.6 293.3 L527.4 289.2 L527.5 289.6 L528.4 293.2 L529.3 296.8 L530.2 299.5 L531.1 301.3 L531.7 303.8 L532 305.2 L532.9 305.1 L533.8 306.8 L534.7 309.5 L535.6 308.8 L536.5 308.7 L537.4 310.4 L538.3 309.7 L539.2 308.7 L540.1 308.9 L541 309.6 L541.1 310.6 L541.9 307.9 L542.8 307.4 L543.7 303.4 L544.5 302 L544.6 302.6 L545.5 298.3 L546.4 292.6 L547.3 289.7 L547.9 284.9 L548.2 287.6 L549.1 291.6 L550 295.7 L550.9 301 L551.4 303.8 L551.8 305.1 L552.7 304.9 L553.6 304.8 L554.5 306.2 L555.4 307.5 L555.6 308 L556.3 307 L557.2 308.1 L558.1 306.7 L559 308.9 L559.9 307.2 L560.8 307 L561.7 308.3 L562.6 307.5 L563.5 309.1 L564.4 308.1 L565.3 308.2 L566.2 309.2 L567.1 307.6 L568 309.1 L568.9 308.8 L569.8 308.2 L570.7 309.5 L571.6 306.8 L572.5 308.8 L573.4 306.7 L574.3 308.4 L575.2 306.5 L576.1 306.3 L577 307.7 L577.9 309.1 L578.8 307.6 L579.7 308.5 L580.6 309 L581.5 308.1 L582.4 308.8 L583.3 307.2 L584.2 308.2 L585.1 308.8 L586 307.5 L586.9 307.1 L587.8 306.6 L588.7 308.4 L589.6 307.8 L590.5 309.2 L591.4 308.9 L592.3 307.3 L593.2 309.5 L594.1 309.4 L595 309 L595.9 308.9 L596.8 308.4 L597.7 308.5 L598.6 308.4 L599.5 308.3 L600.4 307.6 L601.3 307.6 L602.2 309.4 L603.1 309.2 L604 307.7 L604.9 309.2 L605.8 308.9 L606.7 308.3 L607.6 308.7 L608.5 308.7 L609.4 307.2 L610.3 308.3 L611.2 307.6 L612.1 308 L613 308 L613.9 309.7 L614.8 308.7 L615.7 310.2 L616.6 308.6 L617.5 309.4 L618.4 309.8 L619.3 308.9 L620.2 307.8 L621.1 306.9 L622 307.9 L622.9 307.7 L623.8 309 L624.7 309.1 L625.6 309.8 L626.5 308.5 L627.4 308.5 L628.3 308.8 L629.2 309.1 L630.1 307.1 L631 307.2 L631.9 306.9 L632.8 307.4 L633.7 307.4 L634.6 309.4 L635.5 307.7 L636.4 310 L637.3 308.6 L638.2 308.5 L639.1 310.6 L640 308 L640.9 307.8 L641.8 307.4 L642.7 306.9 L643.6 307.4 L644.5 306.8 L645.4 306.6 L646.3 306.4 L647.2 308.6 L648.1 307.2 L649 308.1 L649.9 309.2 L650.8 310.2 L651.7 309.6 L652.6 309.6 L653.5 309.3 L654.4 309.3 L655.3 309.2 L656.2 307.2 L657.1 306.9 L658 308.6 L658.9 308.5 L659.8 308.7 L660.7 309.6 L661.6 308.1 L662.5 309.5 L663.4 308.6 L664.3 308.4 L665.2 307.6 L666.1 307.4 L667 308.1 L667.9 308 L668.8 309.1 L669.7 307.7 L670.6 309.3 L671.5 308 L672.4 309.8 L673.3 308.6 L674.2 310.5 L675.1 310.6 L676 308.3 L676.9 309.4 L677.8 307.5 L678.7 307.4 L679.6 306.7 L680.5 307.6 L681.4 306.9 L682.3 308.8 L683.2 308.8 L684.1 308.7 L685 309.8 L685.9 308.6 L686.8 308.8 L687.7 308.7 L688.6 307.5 L689.5 309.6 L690.4 307.3 L691.3 307.3 L692.2 309.2 L693.1 309.4 L694 308.6 L694.9 308.8 L695.8 308.2 L696.7 307.8 L697.6 309.2 L698.5 308.2 L699.4 307.7 L700.3 309.5 L701.2 306.8 L702.1 307.6 L703 308.7 L703.9 308.9 L704.8 307.5 L705.7 309.6 L706.6 309.4 L707.5 309.9 L708.4 310.9 L709.3 310.4 L710.2 309.7 L711.1 309.9 L712 308.8 L712.9 308.6 L713.8 309.1 L714.7 308.4 L715.6 307.8 L716.5 307 L717.4 309.3 L718.3 308.4 L719.2 308.9 L720.1 308.6 L721 309.4 L721.9 308.9 L722.8 310 L723.7 309.1 L724.6 308.9 L725.5 309.4 L726.4 308.5 L727.3 308.9 L728.2 309.6 L729.1 309.7 L730 309.9 L730.9 310.4 L731.8 309.5 L732.7 309.3 L733.6 308.1 L734.5 308 L735.4 308.3 L736.3 308.3 L737.2 309.3 L738.1 307.1 L739 308.1 L739.9 309.5 L740.8 309 L741.7 310.3 L742.6 308.7 L743.5 310.4 L744.4 309.4 L745.3 309.7 L746.2 308.1 L747.1 308.7 L748 309.6 L748 309 L748.9 307.9 L749.8 306 L750.7 304.3 L751.6 302 L752.5 302.5 L753.1 301.3 L753.4 301.6 L754.3 304 L755.2 305.3 L756.1 306.3 L757 309.1 L757 308 L757.9 307 L758.8 309.2 L759.7 306.8 L760.6 309.3 L761.5 308.3 L762.4 308 L763.3 309.5 L764.2 308.4 L765.1 308.5 L766 307.3 L766.9 309.2 L767.8 308.6 L768.7 307.3 L769.6 306.8 L770.5 307.5 L771.4 308.8 L772.3 308.7 L773.2 307.7 L774.1 306.7 L775 309 L775.9 307.6 L776.8 309.1 L777.7 308.6 L778.6 309.9 L779.5 307.7 L780.4 309.4 L781.3 309.1 L782.2 307.1 L783.1 308.5 L784 307.7 L784.9 308.8 L785.8 309.5 L786.7 308.7 L787.6 308.2 L788.5 308.5 L789.4 307.5 L790.3 308.1 L791.2 307.2 L792.1 308.8 L793 307.1 L793.9 308.4 L794.8 307.6 L795.7 308.8 L796.6 307.5 L797.5 307.6 L798.4 309.2 L798.5 308.5" fill="none" stroke="#0571bd" stroke-width="3.4" stroke-linejoin="round" stroke-linecap="round"/>
<path d="M353.7 349.2 L353.7 349.3 L354.7 349.1 L355.7 349.3 L356.7 349.4 L357.7 349.1 L358.7 349.5 L359.7 349.2 L360.7 349.1 L361.7 349 L362.7 349.4 L363.7 349.3 L364.7 349.3 L365.7 349.2 L366.7 349 L367.7 349.2 L368.7 349.4 L369.7 349.2 L370.7 349.7 L371.7 349.4 L372.7 349.3 L373.7 349.6 L374.7 349.1 L375.7 349.5 L376.7 349.1 L377.7 349.1 L378.7 349 L379.7 349.1 L380.7 349 L381.7 349 L382.7 349.5 L383.7 349.2 L384.7 349.5 L385.7 349.2 L386.7 349.6 L387.7 349.6 L388.7 349.5 L389.7 349.5 L390.7 349.3 L391.7 349.4 L392.7 349.1 L393.7 349.2 L394.7 349.4 L395.7 349 L396.7 349.4 L397.7 349.4 L398.7 349.1 L399.7 349.1 L400.7 349.2 L401.7 349.2 L402.7 349.6 L403.7 349.3 L404.7 349.1 L405.7 349.2 L406.7 349.5 L407.7 349.6 L408.7 349.3 L409.7 349.2 L410.7 349.2 L411.7 349.2 L412.7 348.9 L413.7 349.2 L414.7 349.2 L415.7 349.3 L416.7 349.1 L417.7 349.2 L418.7 349.3 L419.7 349.6 L420.7 349.3 L421.7 349.4 L422.7 349.2 L423.7 349 L424.7 349 L425.7 349.3 L426.7 349.3 L427.7 349.1 L428.7 349.3 L429.7 349.4 L430.7 349.5 L431.7 349.5 L432.7 349.2 L433.7 349.5 L434.7 349.5 L435.7 349.3 L436.7 349.4 L437.7 349.2 L438.7 349.2 L439.7 349.1 L440.7 349.5 L441.7 349.1 L442.7 349 L443.7 349.4 L444.7 349.4 L445.7 349.2 L446.7 349.4 L447.7 349 L448.7 349.1 L449.7 349.1 L450.7 349.2 L451.7 349.1 L452.7 349 L453.7 349.2 L454.7 349.5 L455.7 349.5 L456.7 349.3 L457.7 349.2 L458.7 349 L459.7 349.4 L460.7 349.2 L461.7 349.3 L462.7 349 L463.7 349.2 L464.7 349.5 L465.7 349.5 L466.7 349.5 L467.7 349.3 L468.7 349.2 L469.7 349.2 L470.7 349.3 L471.7 349 L472.7 349.1 L473.7 349 L474.7 349.3 L475.7 349 L476.7 349.4 L477.7 349.6 L478.7 349.1 L479.7 349.4 L480.7 349.4 L481.7 349.5 L482.7 349.3 L483.7 349 L484.7 349.1 L485.7 349.4 L486.7 349.3 L487.7 348.9 L488.7 348.9 L489.7 348.9 L490.7 348.9 L491.7 349.2 L492.7 349 L493.7 349.4 L494.7 349.3 L495.7 349.1 L496.4 349.2 L496.7 349 L497.7 347.9 L497.9 347.7 L498.7 348.6 L499.7 349.3 L500.7 350.2 L501.7 351.1 L502.3 351.8 L502.7 350.5 L503.7 347.5 L504.2 345.9 L504.7 346.6 L505.7 347.9 L506.7 349.8 L507.2 350.7 L507.7 349.5 L508.7 346.9 L509.7 344.4 L509.8 344 L510.7 344.1 L511.7 344.7 L512.7 344.8 L512.7 344.8 L513.7 343.3 L514.7 341 L515.7 339.4 L516.1 338.4 L516.7 340 L517.7 343.1 L517.9 343.6 L518.7 344.6 L519.7 345.9 L520.2 347 L520.7 358.3 L521.3 372.3 L521.7 369.6 L522.7 363.7 L523.2 360.4 L523.7 357.9 L524.6 353.7 L524.7 353.6 L525.7 352.4 L526.7 351.4 L527.6 350 L527.7 349.4 L528.7 345.1 L529.7 340.4 L530.2 338.1 L530.7 345.4 L531.3 353.7 L531.7 352.6 L532.7 348.8 L532.8 348.5 L533.7 348.7 L534.7 348.7 L535.7 348.9 L536.7 348.7 L537.7 349.2 L538.7 349.4 L538.8 349.2 L539.5 339.6 L539.7 338.5 L540.7 333.8 L541.7 329.4 L542.1 327.3 L542.7 331.6 L543.7 339.3 L544 341.8 L544.7 342.4 L545.7 344 L545.9 344 L546.2 379 L546.7 373.7 L547.7 362.6 L548.5 353.7 L548.7 353.1 L549.7 348.7 L549.9 348.1 L550.7 348.5 L551.7 348.7 L552.7 349.1 L553 349.3 L553.7 349.1 L554.7 349.1 L555.7 349.1 L556.7 349 L557.7 349.3 L558.7 349.2 L559.7 349.5 L560.7 349.6 L561.7 349.5 L562.7 349.3 L563.7 349.1 L564.7 349.2 L565.7 349.2 L566.7 349.3 L567.7 349.5 L568.7 349 L569.7 349.3 L570.7 349.3 L571.7 349.5 L572.7 349.6 L573.7 349.5 L574.7 349.4 L575.7 349.4 L576.7 349.4 L577.7 349.4 L578.7 349.3 L579.7 349.3 L580.7 349.1 L581.7 349.5 L582.7 349.2 L583.7 349.4 L584.7 349.5 L585.7 349.6 L586.7 349.6 L587.7 349.1 L588.7 349.2 L589.7 349.2 L590.7 349.3 L591.7 349.1 L592.7 349.3 L593.7 349.1 L594.7 349.2 L595.7 349.5 L596.7 349.4 L597.7 349.2 L598.7 349 L599.7 349.4 L600.7 349.3 L601.7 349.1 L602.7 349.2 L603.7 349.4 L604.7 349.5 L605.7 349.3 L606.7 349.7 L607.7 349.4 L608.7 349.3 L609.7 349.5 L610.7 349.1 L611.7 349.3 L612.7 349 L613.7 349.2 L614.7 349 L615.7 349.1 L616.7 349.5 L617.7 349.3 L618.7 349.4 L619.7 349.5 L620.7 349.3 L621.7 349.3 L622.7 349.4 L623.7 349.2 L624.7 349.1 L625.7 349.5 L626.7 349 L627.7 349.4 L628.7 349.4 L629.7 349.3 L630.7 349 L631.7 349.2 L632.7 349 L633.7 349.3 L634.7 349.4 L635.7 349.2 L636.7 349.1 L637.7 349.4 L638.7 349.2 L639.7 349.3 L640.7 349.4 L641.7 349.6 L642.7 349.3 L643.7 349.1 L644.7 349.4 L645.7 349.4 L646.7 349.2 L647.7 348.9 L648.7 349 L649.7 349.1 L650.7 349.3 L651.7 349.2 L652.7 349.5 L653.7 349.6 L654.7 349.7 L655.7 349.7 L656.7 349.2 L657.7 349.4 L658.7 349.1 L659.7 349.4 L660.7 349.3 L661.7 349.3 L662.7 349 L663.7 349 L664.7 349.4 L665.7 349.4 L666.7 349.4 L667 349.3 L667.5 345 L667.7 345.9 L668.5 349.3 L668.7 349.5 L669.7 349.3 L670.7 349.2 L671.7 349.2 L672.7 349.2 L673.7 349.4 L674.7 349.5 L675.7 349.1 L676.7 349.1 L677.7 349.3 L678.7 349.4 L679.7 349.2 L680.7 349.2 L681.7 349.1 L682.7 349 L683.7 349.3 L684.7 349.4 L685.7 349.4 L686.7 349.1 L687.7 349.1 L688.7 349.6 L689.7 349.4 L690.7 349.3 L691.7 349.5 L692.7 349.5 L693.7 349.3 L694.7 349.1 L695.7 349.5 L696.7 349.1 L697.7 349.1 L698.7 349.3 L699.7 349.4 L700.7 349.5 L701.7 349.3 L702.7 349.5 L703.7 349.4 L704.7 349.1 L705.7 349.5 L706.7 349.4 L707.7 349.5 L708.7 349.3 L709.7 349.1 L710.7 349.5 L711.7 349.6 L712.7 349.5 L713.7 349.7 L714.7 349.8 L715.7 349.4 L716.7 349.7 L717.7 349.6 L718.7 349.5 L719.7 349 L720.7 349.2 L721.7 349.3 L722.7 349.3 L723.7 349.5 L724.7 349.4 L725.7 349.2 L726.7 349.7 L727.7 349.5 L728.7 349.7 L729.7 349.3 L730.7 349.7 L731.7 349.5 L732.7 349.6 L733.7 349.6 L734.7 349.6 L735.7 349.3 L736.7 349.2 L737.7 349.3 L738.7 349.2 L739.7 349.3 L740.7 349.5 L741.7 349.2 L742.7 349.1 L743.7 349.1 L744.7 349.4 L745.7 349.5 L746.7 349.3 L747.7 349.7 L748.7 349.5 L749.7 349.4 L750.7 349.8 L751.7 349.5 L752.7 349.6 L753.7 349.3 L754.7 349 L755.7 349.1 L756.7 349.2 L757.7 349.4 L758.7 349.5 L759.7 349.6 L760.7 349.6 L761.7 349.4 L762.7 349.6 L763.7 349.5 L764.7 349.5 L765.7 349.4 L766.7 349.5 L767.7 349.4 L768.7 349.1 L769.7 349.6 L770.7 349.4 L771.7 349.6 L772.7 349.5 L773.7 349.6 L774.7 349.7 L775.7 349.4 L776.7 349.4 L777.7 349.2 L778.7 349.6 L779.7 349.5 L780.7 349.6 L781.7 349.8 L782.7 349.4 L783.7 349.4 L784.7 349.7 L785.7 349.7 L786.7 349.5 L787.7 349.2 L788.7 349.3 L789.7 349.5 L790.7 349.4 L791.7 349.4 L792.7 349.4 L793.7 349.6 L794.7 349.6 L795.7 349.7 L796.7 349.8 L797.7 349.7 L798.5 349.5" fill="none" stroke="#000" stroke-width="3.0" stroke-linejoin="round" stroke-linecap="round"/>
<path d="M849.8 191.1 L849.8 191.5 L850.7 191.1 L851.6 189.6 L852.5 190.6 L853.4 190.4 L854.3 190.2 L855.2 191.6 L856.1 188.8 L857 188.2 L857 189.3 L857.9 186.7 L858.8 181.2 L859.7 176.7 L860.5 175 L860.6 173.3 L861.5 170.1 L862.4 168.5 L863.3 163.5 L864.2 160.5 L865 158 L865.1 159.7 L866 168.5 L866.9 178.2 L867.7 183.9 L867.8 185.5 L868.7 184.7 L869.6 184.7 L870.5 186.9 L871.4 187.8 L872.1 187.5 L872.3 185.7 L873.2 187.4 L874.1 187.5 L875 186.8 L875.9 185.4 L876.8 186.6 L877.7 185.9 L878.6 183.8 L879.5 184.3 L880.2 183.9 L880.4 183.5 L881.3 185.9 L882.2 188.5 L883.1 189.8 L884 191 L884.9 192.4 L885.5 192 L885.8 191.9 L886.7 187.6 L887.6 182.9 L888.5 177.9 L889.4 172.3 L890.3 165.7 L891.2 160.1 L891.8 158 L892.1 162.4 L893 171.8 L893.9 178.1 L894.8 180.3 L895.7 182.9 L896.6 186.5 L897.1 185.7 L897.5 186.8 L898.4 188.2 L899.3 187.3 L900.2 188.7 L901.1 190.4 L902 190 L902.9 191.2 L903.8 189.4 L904.7 190.6 L905.6 192.1 L906.5 191.7 L907.4 193 L908.3 192.7 L909.2 191.6 L910.1 191.4 L911 193.5 L911.4 192 L911.9 187.9 L912.8 182.5 L913.7 177.4 L914.6 173.2 L915.5 168.5 L916.4 162.5 L916.8 160.7 L917.3 158.9 L918.2 157 L919.1 152.8 L920 150 L920.9 147.6 L921.3 145.5 L921.8 147.6 L922.7 148.6 L923.6 151.4 L923.9 153.6 L924.5 155.9 L925.4 162.8 L926.3 168.3 L927.2 174.6 L927.5 175 L928.1 178.5 L929 180.1 L929.9 183.6 L930.8 185.6 L931.7 184.8 L932.6 184.3 L933.5 185.6 L934.4 185.5 L935.3 185.5 L936.2 185.4 L936.4 187.5 L937.1 186.5 L938 189.6 L938.9 188.5 L939.8 191 L940.7 190.8 L940.9 191.1 L941.6 177.8 L942.5 162.3 L943.4 143.7 L943.6 140.2 L944.3 143.8 L945.2 150.1 L946.1 156.3 L947 161.6 L947.1 162.5 L947.9 168.1 L948.8 172.4 L949.7 178.2 L950.6 184.2 L950.7 183.9 L951.5 185.7 L952.4 187.6 L953.3 187.7 L954.2 187.3 L955.1 187.7 L956 189.8 L956.9 190.1 L957.8 191.1 L958.7 191 L959.6 191.2 L960.5 190.6 L961.4 192.8 L961.4 191.1 L962.3 190.9 L963.2 191.6 L964.1 190.7 L965 191 L965.9 190.6 L966.8 190.7 L967.7 191.3 L968.6 190.9 L969.5 190.3 L970.4 191.9 L971.3 192 L972.2 192.4 L973.1 190.3 L974 191.8 L974.9 192.4 L975.8 190.6 L976.7 190.3 L977.6 191.9 L978.5 190.8 L979.4 191.1 L980.3 192.5 L981.2 191.6 L982.1 191.4 L983 191.5 L983.9 191.9 L984.8 192.7 L985.7 191.5 L986.6 192.3 L987.5 190.2 L988.4 190.5 L989.3 191.5 L990.2 191.2 L991.1 191.4 L992 192.8 L992.9 191.3 L993.8 191.2 L994.7 190.9 L995.6 192.1 L996.5 191.5 L997.4 191.9 L998.3 190.6 L998.9 192 L999.2 189.7 L1000.1 188.4 L1001 187.2 L1001.9 183.7 L1002.8 183.1 L1003.7 179.9 L1004.6 177 L1005.5 175.6 L1006.4 171.5 L1007 170.5 L1007.3 173.4 L1008.2 179.8 L1009.1 182.7 L1010 184.6 L1010.9 185.6 L1011.8 188.1 L1012.7 187.9 L1013.2 189.3 L1013.6 188.9 L1014.5 189.4 L1015.4 190.4 L1016.3 189.6 L1017.2 189 L1018.1 189.7 L1019 187.9 L1019.9 187.9 L1020.8 188.5 L1021.7 187.9 L1022.6 186.9 L1023.5 187.3 L1024.4 188.3 L1025.3 186.6 L1026.2 187.7 L1027.1 185.7 L1028 187.8 L1028.9 186.8 L1029.8 185.6 L1030.7 187.1 L1031.6 186.5 L1032.5 184.4 L1033.4 184.9 L1033.8 185.7 L1034.3 186.9 L1035.2 190 L1036.1 188.8 L1037 189.3 L1037.9 190.5 L1038.8 190 L1039.7 191 L1040 191 L1040.6 191.3 L1041.5 190.8 L1042.4 189.9 L1043.3 189.4 L1044.2 191.5 L1045.1 190.4 L1046 190.5 L1046.9 190.5 L1047.8 191.1 L1048.7 191.6 L1049.6 191.4 L1050.5 191.1 L1051.4 190 L1052.3 189.6 L1053.2 189.4 L1054.1 191.5 L1055 189.4 L1055.9 190.8 L1056.8 191.8 L1057.7 190.2 L1058.6 190.4 L1059.5 190.4 L1060.4 191.7 L1061.3 190.9 L1062.2 191.2 L1063.1 188.8 L1064 190.5 L1064.9 189.7 L1065.8 189.4 L1066.7 190.5 L1067.6 190.3 L1068.5 190.8 L1069.4 190.5 L1070.3 191 L1071.2 189.8 L1072.1 190.2 L1073 190.8 L1073.9 189.9 L1074.8 189 L1075.7 190.2 L1076.6 190.9 L1077.5 190.8 L1078.4 188.7 L1079.3 189.4 L1080.2 188.9 L1081.1 189.2 L1082 190.8 L1082.9 189.2 L1083.8 188.8 L1084.7 188.6 L1085.6 188.9 L1086.5 189.4 L1087.4 188.5 L1087.9 189.3 L1088.3 187.3 L1089.2 185.9 L1090.1 184.5 L1091 184.7 L1091.9 181.3 L1092.3 181.2 L1092.8 183.5 L1093.7 184 L1094.6 188 L1095.5 188.7 L1096.4 192.1 L1096.8 192 L1097.3 191.9 L1098.2 190.8 L1099.1 190.6 L1100 192.4 L1100.9 191.7 L1101.8 191.5 L1102.7 191.2 L1103.6 192.1 L1104.5 191.5 L1105.4 190.4 L1106.3 191.7 L1107.2 190.8 L1108.1 192.2 L1109 191.3 L1109.9 191.9 L1110.8 190.2 L1111.7 191.9 L1112.6 191.8 L1113.5 192.5 L1114.4 192.7 L1115.3 191.8 L1116.2 191.8 L1117.1 192.1 L1117.3 191 L1118 186.9 L1118.9 182.8 L1119.8 178.6 L1120.7 173.4 L1121.6 168.6 L1122.5 164.9 L1122.7 163.4 L1123.4 168.5 L1124.3 172 L1125.2 177 L1126.1 183.9 L1126.8 187.5 L1127 185.9 L1127.9 184.3 L1128.8 179.1 L1129.7 175.3 L1130.4 172.3 L1130.6 173.9 L1131.5 177.7 L1132.4 179.5 L1133.3 184.2 L1134.2 187.4 L1134.3 188.4 L1135.1 189.1 L1136 188.7 L1136.9 191.1 L1137.8 189.9 L1138.7 190.2 L1139.6 191.7 L1140.5 191.6 L1141.4 190.5 L1142.3 192 L1142.3 191.3 L1143.2 185 L1144.1 177.2 L1145 170.5 L1145.5 167.9 L1145.9 171 L1146.8 173.7 L1147.7 179.8 L1148.6 184.3 L1149.5 187.5 L1149.5 188.2 L1150.4 187.9 L1151.3 189.7 L1152.2 189.8 L1153.1 188.2 L1154 190.9 L1154.9 190.7 L1155.8 190.2 L1156.7 190.3 L1157.6 190.4 L1158.5 192.5 L1159.4 192.7 L1160.3 191.3 L1161.2 190.7 L1162.1 190.3 L1163 191.3 L1163.9 191.1 L1164.8 190.7 L1165.7 191.7 L1166.6 193.6 L1167.5 191.9 L1168.4 193.1 L1169.3 193.6 L1170.2 192.6 L1171.1 192 L1172 191.9 L1172.7 192.9 L1172.9 190.6 L1173.8 187 L1174.7 181 L1175.6 175.1 L1176.5 170.2 L1177.4 163.3 L1178.3 157.7 L1178.9 154.5 L1179.2 160.5 L1180.1 170.1 L1181 177.1 L1181.9 179.1 L1182.8 181.3 L1183.7 183.4 L1184.3 183.9 L1184.6 184.9 L1185.5 184.6 L1186.4 186.4 L1187.3 187.1 L1188.2 189.9 L1189.1 191.9 L1190 191.8 L1190.9 191.1 L1191.8 192.8 L1192.7 192.8 L1193.6 191.3 L1194.5 193.4 L1195.4 192.7 L1196.3 192.4 L1197.2 192.3 L1198.1 192.2 L1199 193.5 L1199.9 193.6 L1200.4 193.8 L1200.8 188.3 L1201.7 177.7 L1202.6 165.9 L1203.5 154.8 L1204.4 143 L1205.3 129.8 L1205.7 125 L1206.2 133.1 L1207.1 146.6 L1208 161.3 L1208.4 167.9 L1208.9 170.5 L1209.8 175.8 L1210.7 177.4 L1211.6 182.5 L1212.5 185.9 L1212.9 187.5 L1213.4 189.3 L1214.3 190.3 L1215.2 189.5 L1216.1 189 L1217 190.9 L1217.9 191.5 L1218.8 192.4 L1219.7 193.4 L1220.6 193.3 L1221.5 194.1 L1222.4 195.1 L1223.3 193.2 L1224.2 193.8 L1225.1 194.9 L1226 195.5 L1226.9 195.4 L1227.8 193.6 L1228.7 195.6 L1228.9 194.6 L1229.6 184.7 L1230.5 173.5 L1231.4 161 L1232.3 150.4 L1233.2 137.9 L1234.1 126.6 L1234.3 123.2 L1235 129.1 L1235.9 132.6 L1236.8 139.8 L1237.7 145.6 L1238.6 150.8 L1238.8 153.6 L1239.5 162.1 L1240.4 173.5 L1241.3 178.4 L1242.2 181.7 L1243.1 182.4 L1244 185.7 L1244.1 183.9 L1244.9 186.1 L1245.8 187.6 L1246.7 188.8 L1247.6 189.2 L1248.5 191.2 L1249.4 190.4 L1250.3 191.5 L1251.2 192.4 L1252.1 193.4 L1253 191.8 L1253.9 192.5 L1254.8 194.3 L1255.7 192.9 L1255.7 193.3 L1256.6 187.9 L1257.5 184.5 L1258.4 177.8 L1259.3 173.6 L1260.2 168.7 L1261.1 166.1 L1262 161.4 L1262.9 156.8 L1263.8 153 L1264.7 148.1 L1265 146.4 L1265.6 151.7 L1266.5 157.4 L1267.4 161.8 L1268.3 168.5 L1269.2 171.8 L1270 178.6 L1270.1 178.5 L1271 179.8 L1271.9 182 L1272.8 185.1 L1273.7 185.6 L1274.6 186.9 L1275.5 188.2 L1276.4 189.7 L1277.3 191.4 L1278.2 190.3 L1279.1 190.2 L1280 192.2 L1280.9 192.6 L1281.8 193.5 L1282.7 191.4 L1283.6 192.2 L1284.3 192.9 L1284.5 192.8 L1285.4 192.4 L1286.3 189.2 L1287.2 187.9 L1288.1 183.8 L1289 182.1 L1289.9 180.3 L1290.8 176.8 L1291.4 176.8 L1291.7 175.6 L1292.6 174.9 L1293.5 173.6 L1294.4 172 L1294.6 171.4 L1295.3 176 L1296.2 181.4 L1297.1 185.1 L1297.7 187.5 L1298 187.4 L1298.9 187.6 L1299.8 187.3 L1300.7 189.8 L1301.6 189.1 L1302.1 189.3" fill="none" stroke="#0571bd" stroke-width="3.4" stroke-linejoin="round" stroke-linecap="round"/>
<path d="M849.8 243.8 L849.8 243.8 L850.7 245 L851.6 245 L852.5 243.8 L853.4 243.1 L854.3 245.4 L855.2 244.1 L856 245.5 L856.1 243.8 L857 242.2 L857.9 239 L858.8 235.3 L859.7 231.9 L860.6 226.1 L861.5 221.9 L862.3 219.6 L862.4 217.7 L863.3 212.4 L864.2 202.5 L865 197.3 L865.1 197 L866 205.3 L866.9 214.2 L867.8 223 L868.6 232.1 L868.7 232.3 L869.6 236.2 L870.5 239.6 L871.4 243.4 L872.3 242.6 L873.2 245.3 L874.1 245.6 L875 245.4 L875.7 245.5 L875.9 244.8 L876.8 241.7 L877.7 237.6 L878.6 233.1 L879.5 229.9 L880.2 227.7 L880.4 227.7 L881.3 231.5 L882.2 236.5 L883.1 238.3 L884 240.6 L884.6 243.8 L884.9 241.9 L885.8 237.2 L886.7 230.5 L887.6 225.5 L888.2 221.4 L888.5 218.5 L889.4 213.5 L890.3 210.1 L891.2 203.6 L892.1 199.3 L892.7 196.4 L893 199 L893.9 206.5 L894.8 214.1 L895.7 222 L896.6 232.4 L897.1 235.7 L897.5 236.8 L898.4 239 L899.3 239 L900.2 241.4 L901.1 242.2 L902 242.4 L902.9 243 L903.8 243.7 L904.7 243.6 L905.6 244.5 L906.5 245.8 L907.4 244.6 L908.3 246.5 L909.2 245.6 L910.1 245.9 L911 246.5 L911.9 246.1 L912.8 244.9 L913.7 245.4 L914.1 246.4 L914.6 238.6 L915.5 227.4 L916.4 218.6 L917.3 206.3 L918.2 195.9 L919.1 183.9 L919.5 177.7 L920 182.3 L920.9 192.7 L921.8 201.1 L922.7 208.5 L923.6 216.1 L924 221.4 L924.5 213.8 L925.4 201.1 L925.7 198.2 L926.3 203 L927.2 210.4 L927.5 214.3 L928.1 212.5 L929 209.7 L929.3 207.1 L929.9 217.4 L930.8 229.6 L931.7 235.5 L932.6 239 L933.5 242.4 L934.4 242.3 L934.6 242.9 L935.3 244 L936.2 242.3 L937.1 245.3 L938 243.6 L938.9 243.7 L939.8 246.5 L940 245.5 L940.7 234.2 L941.6 218.5 L942.5 203.2 L943.4 186.6 L944.3 170.2 L944.5 167.9 L945.2 181.1 L946.1 196 L947 205.5 L947.9 210.3 L948.8 215.8 L949.7 219.4 L950.6 223.2 L951.5 222.6 L952.4 226.1 L952.5 225 L953.3 229.3 L954.2 234 L955.1 235.6 L956 237.5 L956.9 241.1 L957.8 241.1 L958.7 243.2 L959.6 243.6 L960.5 243.9 L961.4 242.6 L961.4 243.8 L962.3 244.2 L963.2 245.5 L964.1 244.3 L965 243.3 L965.9 243.6 L966.8 245.7 L967.7 245.6 L968.6 243.5 L969.5 243.6 L970.4 244.6 L971.3 244.1 L972.2 243.3 L973.1 245.6 L973.9 244.6 L974 244.8 L974.9 244.3 L975.8 243.5 L976.7 244.9 L977.6 245.6 L978.5 244 L979.4 243.7 L980.3 245.3 L981.2 245.7 L982.1 244.1 L983 244.3 L983.9 244.8 L984.8 244.5 L985.7 243.5 L986.6 244 L987.5 243.9 L988.4 243.9 L989.3 243.6 L990.2 244.4 L991.1 243.9 L992 245.5 L992.9 244 L993.8 245.7 L994.7 245.3 L995.6 243.9 L996.5 243.7 L997.4 244.9 L998.3 244.7 L998.9 244.6 L999.2 244.1 L1000.1 240.6 L1001 239.3 L1001.9 237.4 L1002.8 234.1 L1003.7 231.1 L1004.6 230.4 L1005.5 226.3 L1006 225.9 L1006.4 230.1 L1007.3 234.4 L1008.2 235.7 L1009.1 238.9 L1010 239.4 L1010.9 241.9 L1011.4 241 L1011.8 241.9 L1012.7 242.3 L1013.6 245.6 L1014.5 245.8 L1015.4 245.7 L1016.3 245.9 L1017.2 244.8 L1018.1 247.5 L1019 245.9 L1019.9 246.8 L1020.8 247 L1021.7 247.2 L1022 247.3 L1022.6 245.8 L1023.5 247.7 L1024.4 246.1 L1025.3 245.3 L1026.2 245.8 L1027.1 245.1 L1028 244 L1028.9 243.8 L1029.8 241.6 L1030.7 240.3 L1031.6 240.4 L1032.5 240.5 L1032.9 240.2 L1033.4 241.6 L1034.3 242.7 L1035.2 243.4 L1036.1 244.1 L1037 244.9 L1037.9 245.1 L1038.8 243.9 L1039.7 245.6 L1040.6 245.1 L1041.5 244.7 L1042.4 246.3 L1043.3 247.1 L1044.2 245.8 L1045.1 247 L1045.4 246.4 L1046 246.9 L1046.9 247 L1047.8 247.4 L1048.7 246.8 L1049.6 245.1 L1050.5 246.4 L1051.4 245.6 L1052.3 245.7 L1053.2 246.4 L1054.1 245.2 L1055 246.5 L1055.9 247.5 L1056.8 245.3 L1057.7 247.5 L1058.6 247.1 L1059.5 246.2 L1060.4 247.1 L1061.3 245 L1062.2 245 L1063.1 247.1 L1064 245.9 L1064.9 244.6 L1065.8 244.5 L1066.7 245.4 L1067.6 245.9 L1068.5 247.3 L1069.4 245.3 L1070.3 246.6 L1071.2 246.2 L1072.1 246.5 L1073 247.4 L1073.9 245 L1074.8 246.7 L1075.7 246.2 L1076.6 244.8 L1077.5 244.3 L1078.4 246 L1079.3 246.3 L1080.2 245 L1081.1 244.6 L1082 245.8 L1082.9 246.2 L1083.8 245.4 L1084.7 245.5 L1085.6 244.6 L1086.5 244.7 L1087 245.5 L1087.4 244 L1088.3 243.6 L1089.2 240 L1090.1 238.4 L1091 237.3 L1091.4 236.6 L1091.9 236.5 L1092.8 237.9 L1093.7 240.5 L1094.6 240.3 L1095.5 242.4 L1096 243 L1096.4 241.8 L1097.3 243 L1098.2 243.6 L1099.1 243 L1100 242.4 L1100.9 242.2 L1101.8 243.1 L1102.7 243.7 L1103.6 243.2 L1104.5 244.3 L1105.4 244.6 L1106.3 243.5 L1107.2 245.1 L1108.1 245.8 L1109 245 L1109.9 244.2 L1110.8 245.2 L1111.7 245.6 L1112.6 245.7 L1113.5 246 L1114.4 245.8 L1115.3 246.6 L1116.2 246.5 L1116.4 245.5 L1117.1 240.2 L1118 233 L1118.9 227.1 L1119.8 220.8 L1120.7 212.7 L1121.6 205.9 L1122.3 200.9 L1122.5 202 L1123.4 212.3 L1124.3 223.4 L1125.2 235.6 L1125.7 241 L1126.1 238 L1127 235.3 L1127.9 233 L1128.8 231.6 L1129.3 228.6 L1129.7 229.6 L1130.6 232.7 L1131.5 236.3 L1132.4 240.5 L1133 243 L1133.3 242.4 L1134.2 245.4 L1135.1 244.6 L1136 245.6 L1136.9 245.7 L1137.8 246.6 L1138.7 246.4 L1139.6 246.8 L1140.5 247.1 L1141.4 247.3 L1142.3 248.2 L1142.3 248.5 L1143.2 237.3 L1144.1 226.5 L1145 215.6 L1145.9 207.5 L1146.4 200.9 L1146.8 203.4 L1147.7 207.5 L1148.6 210.7 L1149.5 213.9 L1150.4 217.5 L1151.3 221.4 L1151.3 221 L1152.2 224.9 L1153.1 228.1 L1154 232.7 L1154.9 233.8 L1155.7 237.5 L1155.8 238.1 L1156.7 239.6 L1157.6 240.6 L1158.5 241.6 L1159.4 241.1 L1160.3 242.4 L1161.2 244.4 L1162.1 245.5 L1163 247.2 L1163.9 247.4 L1164.8 246.3 L1165.7 246.5 L1166.6 248.4 L1167.5 246.4 L1168.4 248.8 L1169.3 246.5 L1170.2 247.8 L1171.1 248.4 L1172 246.4 L1172.7 248.2 L1172.9 243.3 L1173.8 229.9 L1174.7 215.3 L1175.6 198.6 L1176.5 185.1 L1177.1 175 L1177.4 179.2 L1178.3 188.5 L1179.2 196.8 L1180.1 205 L1181 215.8 L1181.6 221.4 L1181.9 224.6 L1182.8 231 L1183.7 235.9 L1184.6 238.7 L1185.5 240.3 L1186.4 241.7 L1187.3 242.5 L1187.9 242.9 L1188.2 243.9 L1189.1 245 L1190 243.7 L1190.9 246.4 L1191.8 245.5 L1192.7 246.4 L1193.6 246.3 L1194.5 246.9 L1195.4 247.4 L1196.3 247.8 L1197.2 247.1 L1198.1 247.8 L1199 248.3 L1199.9 248.1 L1200.4 248.2 L1200.8 242.4 L1201.7 227.3 L1202.6 214.8 L1203.5 201.9 L1204.4 187.7 L1205.3 173.5 L1205.7 167.9 L1206.2 181.9 L1207.1 197.6 L1208 207.5 L1208.9 215.1 L1209.8 218.1 L1210.7 220.6 L1211.1 221.4 L1211.6 227.1 L1212.5 232.2 L1213.4 235.1 L1214.3 237.8 L1215.2 240.8 L1216.1 241.5 L1217 242.8 L1217.9 242.8 L1218.2 242.9 L1218.8 242.7 L1219.7 245.1 L1220.6 246.7 L1221.5 247.6 L1222.4 248.5 L1223.3 247.1 L1224.2 247.9 L1225.1 248.1 L1226 250.1 L1226.9 249.8 L1227.8 249.5 L1228.7 248.4 L1228.9 249.1 L1229.6 234 L1230.5 215.5 L1231.4 194.5 L1232.3 177.7 L1233.2 158.1 L1233.4 153.6 L1234.1 162.2 L1235 172.4 L1235.9 181.3 L1236.8 190.8 L1237.7 201 L1237.9 203.6 L1238.6 213.4 L1239.5 221.8 L1240.4 225.8 L1241.3 228.8 L1242.2 231.2 L1243.1 232.9 L1243.2 232.1 L1244 233.5 L1244.9 238.3 L1245.8 239.5 L1246.7 240.6 L1247.6 242 L1248.5 243.6 L1249.4 243.3 L1250.3 243.6 L1251.2 243.5 L1252.1 244.6 L1253 244.4 L1253.9 245.4 L1254.8 246.9 L1255.7 246.7 L1256.6 248.6 L1257.5 247.3 L1257.5 247.8 L1258.4 240.3 L1259.3 229.9 L1260.2 221.4 L1260.2 223.3 L1261.1 215.7 L1262 208.5 L1262.9 200.9 L1263.8 192.9 L1264.7 184.7 L1265 183.9 L1265.6 189.9 L1266.5 198.9 L1267.4 206.4 L1268.3 216.1 L1269.2 224.7 L1270 232.1 L1270.1 233.4 L1271 236.5 L1271.9 238.1 L1272.8 238.5 L1273.7 240.6 L1274.6 241.9 L1275.5 241.9 L1276.4 243.8 L1277.3 243.2 L1278.2 243 L1279.1 244.1 L1280 245.5 L1280.9 245.6 L1281.8 245.1 L1282.7 245.7 L1283.6 246.7 L1284.3 246.4 L1284.5 246.5 L1285.4 240.6 L1286.3 237 L1287.2 233.7 L1288.1 229.2 L1289 225.2 L1289.6 223.2 L1289.9 223 L1290.8 222.8 L1291.7 222.7 L1292.6 223.9 L1293 224 L1293.5 225.8 L1294.4 229.4 L1295.3 233.4 L1296.2 236.5 L1297.1 238.4 L1297.7 241 L1298 240.2 L1298.9 242 L1299.8 242.6 L1300.7 244 L1301.6 246.1 L1302.1 245.5" fill="none" stroke="#0571bd" stroke-width="3.4" stroke-linejoin="round" stroke-linecap="round"/>
<path d="M849.8 300.9 L849.8 301.6 L850.7 300.9 L851.6 301.7 L852.5 299.9 L853.4 299 L854.3 299.6 L855.2 298 L856.1 296.4 L857 295.7 L857.9 295.7 L858.8 294 L859.7 295.2 L860.6 295.3 L861.5 294.3 L862.4 295.2 L863.3 295.1 L864.1 292.9 L864.2 293.9 L865.1 296.2 L866 296 L866.9 296.8 L867.8 299.9 L868.7 298.5 L869.6 298.6 L870.5 300.8 L871.4 300.8 L872.3 299.4 L873.2 300.2 L873.9 300.9 L874.1 299.9 L875 298.5 L875.9 296.2 L876.8 296 L877.7 293.8 L878.6 292.4 L879.5 290.3 L880.4 288.5 L880.7 289.3 L881.3 289.6 L882.2 294.4 L883.1 296.8 L884 298.9 L884.6 300 L884.9 299 L885.8 297.5 L886.7 295.7 L887.6 294.5 L888.5 291.9 L889.1 292 L889.4 290.9 L890.3 289.5 L891.2 288.4 L892.1 288.7 L893 287.3 L893.6 287.5 L893.9 287.8 L894.8 290.5 L895.7 294.1 L896.6 297.8 L897.1 298.2 L897.5 298.3 L898.4 298 L899.3 299.3 L900.2 299.2 L901.1 300.3 L902 298.5 L902.9 300.5 L903.8 298.3 L904.7 299.9 L905.6 299.9 L906.5 299.8 L907.4 301.7 L908.3 301.5 L909.2 300.4 L910.1 301.5 L911 302 L911.4 301.8 L911.9 299 L912.8 296.7 L913.7 295.6 L914.6 293.5 L915 292 L915.5 288.2 L916.4 281.8 L917.3 275.8 L918.2 268.9 L919.1 264.3 L919.5 259.8 L920 265.1 L920.9 270 L921.8 274.7 L922.7 281.7 L923 283.9 L923.6 287.1 L924.5 288.7 L925.4 290.4 L926.3 292.5 L927.2 295.6 L928.1 296.7 L929 297.1 L929.9 299.1 L930.8 300.4 L931.7 301.7 L932.6 301.8 L933.5 301.1 L934.4 302.2 L934.6 300.9 L935.3 300.8 L936.2 298.4 L937.1 295.8 L938 293.2 L938.9 290.9 L939.8 289.7 L940.7 287.1 L941.6 285.4 L942.5 282.1 L943.4 279.7 L943.6 280.4 L944.3 283.9 L945.2 290 L946.1 295.2 L946.3 296.4 L947 291.9 L947.9 287.6 L948.8 285.3 L948.9 283.9 L949.7 287.3 L950.6 293.1 L951.5 294.9 L952.4 295.8 L953.3 297.9 L954.2 297.6 L954.3 296.4 L955.1 296 L956 298.6 L956.9 297.2 L957.8 298.6 L958.7 298.3 L959.6 296.5 L960.5 296.4 L961.4 296.7 L962.3 299.2 L963.2 299.8 L964.1 298.9 L965 299.2 L965 300 L965.9 300.1 L966.8 301.4 L967.7 301.3 L968.6 301.6 L969.5 301.7 L970.4 300.9 L971.3 300.9 L972.2 298.6 L973.1 298.5 L974 300.8 L974.9 300.1 L975.8 299.4 L976.7 298.9 L977.6 299.5 L978.5 299.5 L979.4 299.8 L980.3 299.6 L981.2 298.9 L982.1 298.5 L983 298.9 L983.9 298.8 L984.8 298.9 L985.7 300 L986.6 299.5 L987.5 301.5 L988.4 300.9 L989.3 300.6 L990.2 300.9 L991.1 299.6 L992 298.7 L992.9 298.5 L993.8 298.9 L994.7 298.8 L995.6 298.5 L996.5 298.7 L997.4 300.4 L998.3 298.5 L999.2 300 L1000.1 300.1 L1001 300 L1001.6 300 L1001.9 300.9 L1002.8 298.5 L1003.7 296.8 L1004.6 295.9 L1005.5 296.9 L1006.4 294 L1007 293.8 L1007.3 293.3 L1008.2 297.3 L1009.1 297.6 L1010 299.4 L1010.9 298.3 L1011.8 300 L1012.7 298.2 L1013.6 298.9 L1014.5 300.4 L1015 300 L1015.4 299.6 L1016.3 300.3 L1017.2 299.2 L1018.1 300.6 L1019 298.6 L1019.9 300.3 L1020.8 299.4 L1021.7 299.6 L1022.6 301.5 L1023.5 300.2 L1024.4 301.1 L1025.3 299.3 L1026.2 300.1 L1027.1 300.2 L1028 299.1 L1028.9 297.8 L1029.8 298.8 L1030.7 299.6 L1031.6 299.4 L1032.5 298.7 L1033.4 298.8 L1034.3 298.3 L1035.2 300.2 L1036.1 298.7 L1037 298.8 L1037.9 298.1 L1038.8 298.3 L1039.7 298.7 L1040.6 298.8 L1041.5 297.8 L1042.4 298.4 L1043.3 299.3 L1044.2 297.5 L1045.1 297.6 L1046 298.5 L1046.9 299.4 L1047.8 299.3 L1048.7 298.2 L1049.6 296.8 L1050.5 298.8 L1051.4 299.1 L1052.3 298.9 L1053.2 298.1 L1054.1 298 L1055 298.8 L1055.9 299.6 L1056.8 300.2 L1057.7 298.8 L1058.6 298.7 L1059.5 297.9 L1060.4 298.1 L1061.3 297.7 L1062.2 296.6 L1063.1 296.8 L1064 297.9 L1064.9 296 L1065.8 296.2 L1066.7 296.6 L1067.6 298.4 L1068.5 297.1 L1069.4 298.7 L1070.3 299 L1071.2 298.9 L1072.1 298.6 L1073 296.8 L1073.9 297.3 L1074.8 298.1 L1075.7 296.5 L1076.6 297.4 L1077.5 298.1 L1078.4 298.2 L1079.3 296.6 L1080.2 295.9 L1081.1 295.5 L1082 296.1 L1082.9 296.5 L1083.8 295.6 L1084.7 296.9 L1085.6 296.4 L1086.5 296.5 L1087.4 297.2 L1088.3 296.1 L1089.2 297.3 L1090.1 296.7 L1090.5 296.4 L1091 297.2 L1091.9 297.7 L1092.8 300.4 L1093.7 301.4 L1094.6 299.6 L1095 301 L1095.5 301.5 L1096.4 299.3 L1097.3 300 L1098.2 299.6 L1099.1 301.2 L1100 300.1 L1100.9 300.5 L1101.8 300.4 L1102.7 300.4 L1103.6 300.6 L1104.5 300.2 L1105.4 300.1 L1106.3 301.5 L1107.2 302 L1108.1 301.7 L1109 300.5 L1109.9 302.4 L1110.8 299.9 L1111.7 300.9 L1112.6 300.6 L1113.5 300.2 L1114.4 302.2 L1115.3 301.4 L1116.2 299.7 L1117.1 299.6 L1118 301.2 L1118.9 299.9 L1119.8 299.7 L1120 300.9 L1120.7 297.8 L1121.6 295.7 L1122.5 294.2 L1123.2 292 L1123.4 292.2 L1124.3 294.9 L1125.2 295.4 L1126.1 298.4 L1127 299 L1127 300.2 L1127.9 297.9 L1128.8 297.6 L1129.7 296 L1130.6 293.6 L1131.5 291.2 L1131.6 292 L1132.4 292.5 L1133.3 295.6 L1134.2 296.3 L1135.1 297.3 L1136 299.4 L1136.9 299.4 L1137.8 301.3 L1138.7 302.2 L1139.6 300.5 L1140.5 302.4 L1141.4 301.8 L1141.4 301.3 L1142.3 298.5 L1143.2 296.4 L1144.1 293.8 L1145 288.9 L1145.9 287 L1146.8 283 L1146.8 282.8 L1147.7 289.3 L1148.6 290 L1149.5 293 L1150.4 292.3 L1151.3 294 L1152.1 294.6 L1152.2 294.8 L1153.1 296.3 L1154 296.8 L1154.9 297.2 L1155.8 297.8 L1156.7 299.5 L1157.6 300.5 L1158.5 301.3 L1159.4 302.3 L1160.3 302.9 L1161.2 303.7 L1162.1 303 L1163 303.6 L1163.9 303.1 L1164.8 302 L1165.7 303 L1166.6 301.8 L1167.5 303.1 L1168.4 303.4 L1169.3 303.7 L1170.2 304.1 L1171.1 303.9 L1172 303.6 L1172.7 303.6 L1172.9 301.1 L1173.8 292.5 L1174.7 283.5 L1175.6 272.4 L1175.7 271.4 L1176.5 274.3 L1177.4 279.6 L1178.3 283.9 L1179.2 285.9 L1180.1 289.6 L1180.7 292.9 L1181 292.7 L1181.9 295.2 L1182.8 297.1 L1183.7 296.4 L1184.6 298.6 L1185.5 297.1 L1186.4 298 L1187.3 299.4 L1188.2 300.4 L1189.1 300.2 L1190 301.4 L1190.9 301.2 L1191.8 301.9 L1192.7 302.9 L1193.6 302.1 L1194.5 303 L1195.4 303.6 L1196.3 304.4 L1197.2 303 L1198.1 302.9 L1199 304.7 L1199.9 303.5 L1200.4 303.6 L1200.8 296.9 L1201.7 284.8 L1202.6 271.6 L1203.5 259 L1204.4 245.5 L1205.3 232.8 L1205.4 231.3 L1206.2 247.3 L1207.1 260.7 L1208 268.4 L1208.9 272.8 L1209.8 276.1 L1210.7 279.3 L1211.1 278.6 L1211.6 281.6 L1212.5 286.2 L1213.4 290.1 L1214.3 291.9 L1215.2 293.1 L1216.1 296.6 L1217 296.2 L1217.9 295.1 L1218.2 296.4 L1218.8 297.5 L1219.7 297.6 L1220.6 299.2 L1221.5 301 L1222.4 301.6 L1223.3 300.5 L1224.2 302.1 L1225.1 301.9 L1226 301.3 L1226.9 302.7 L1227.8 304.3 L1228 302.7 L1228.7 300.6 L1229.6 295.6 L1230.5 291.3 L1231.4 284.5 L1231.6 283 L1232.3 283.9 L1233.2 283.8 L1234.1 283.8 L1235 283.4 L1235.9 283.3 L1236.1 283 L1236.8 286.4 L1237.7 290.4 L1238.6 293.5 L1239.5 293.7 L1240.4 295.3 L1241.3 296.1 L1241.4 296.4 L1242.2 296.3 L1243.1 296.9 L1244 298.7 L1244.9 298.2 L1245.8 297.9 L1246.7 300.2 L1247.6 301 L1248.5 299.3 L1249.4 300.9 L1250.3 299.4 L1251.2 299.9 L1252.1 299.7 L1253 300.9 L1253.9 300.4 L1254.8 300.9 L1255.7 300.3 L1256.6 300.5 L1257.5 300.9 L1258.4 300.3 L1259.3 300.9 L1259.3 299.7 L1260.2 298.8 L1261.1 300 L1262 299.2 L1262.9 297.9 L1263.8 297.8 L1264.6 294.6 L1264.7 296.5 L1265.6 296.1 L1266.5 296 L1267.4 297 L1268.3 298.6 L1269.2 298.7 L1270.1 296.7 L1271 297.1 L1271.9 298.7 L1272.8 300.4 L1273.7 300.8 L1274.6 301.1 L1275.5 299.3 L1276.4 300 L1277.3 301.7 L1278.2 301 L1279.1 300.8 L1280 302.7 L1280.9 300.3 L1281.8 301.8 L1282.7 303 L1283.6 302.7 L1284.5 303.3 L1285.4 301.7 L1286 301.8 L1286.3 301.8 L1287.2 301.2 L1288.1 297.1 L1289 296.1 L1289.9 295.9 L1290.8 292 L1291.7 292.1 L1292.6 290.7 L1293.5 288.2 L1294.1 288.4 L1294.4 290.6 L1295.3 293.1 L1296.2 293.6 L1297.1 297.5 L1298 298.4 L1298.9 297.9 L1299.8 297 L1300.7 299.1 L1301.6 298.5 L1302.1 298.2" fill="none" stroke="#0571bd" stroke-width="3.4" stroke-linejoin="round" stroke-linecap="round"/>
<path d="M849.8 350.6 L849.8 350.7 L850.8 350.8 L851.8 350.7 L852.8 350.8 L853.8 350.5 L854.8 350.3 L855.8 350.2 L856.8 350.5 L857.8 350.2 L858.8 350.4 L859.8 350.4 L860.8 350.1 L861.8 350.5 L862.8 350.1 L863.8 350.6 L864.8 350.5 L865.8 350.2 L866.8 350.4 L867.8 350.4 L868.8 350 L869.8 350.2 L870.8 349.9 L871.8 350.3 L872.8 350.2 L873 350.1 L873.8 351.2 L874.8 351.7 L875.6 352.7 L875.8 352.3 L876.8 350.6 L877.8 348.7 L878.8 346.6 L879.3 345.9 L879.8 347.4 L880.8 350.2 L881.4 351.7 L881.8 349.1 L882.8 343.1 L883.8 337.6 L883.8 338.1 L884.8 346.7 L885.5 352.7 L885.8 352.8 L886.8 352.6 L887.8 352.4 L888.6 352.2 L888.8 351.7 L889.8 350 L890.8 348.4 L891.8 346.8 L892.3 345.9 L892.8 346.6 L893.8 348.6 L894.8 350.3 L894.9 350.6 L895.8 345.4 L896.5 341.2 L896.8 341.7 L897.8 342.9 L898 343.3 L898.8 341.2 L899.8 338.8 L900.1 338.1 L900.8 335.5 L901.8 332.4 L902.7 328.8 L902.8 329.6 L903.8 334.5 L904.8 339 L904.8 339.2 L905.8 344.4 L906.4 347.5 L906.8 346.3 L907.8 344.6 L908.4 343.3 L908.8 343 L909.8 342.5 L910.8 341.9 L911 341.8 L911.8 345.3 L912.8 350 L913.1 351.1 L913.8 349.7 L914.8 346.8 L915.8 344.4 L916.8 341.8 L916.8 342 L917.8 345 L918.8 347.8 L919.8 350.8 L919.9 351.1 L920.8 349 L921.8 346.1 L922.8 343.6 L923 343.3 L923.8 346.5 L924.8 350.3 L925.1 351.7 L925.8 351.9 L926.8 351.6 L927.8 351.9 L928.8 351.7 L928.8 351.5 L929.8 348.4 L930.8 344.9 L930.8 345.1 L931.8 350.6 L932.4 353.8 L932.8 352.7 L933.8 350.2 L934.8 347.7 L935.8 345.3 L936 344.9 L936.8 349.7 L937.6 354.3 L937.8 353.7 L938.8 351.8 L939.8 350.1 L940.8 348 L941.8 346.2 L942.3 345.4 L942.8 347.8 L943.8 353.3 L943.9 353.8 L944.8 350.5 L945.8 347.6 L946.8 344.1 L947 343.3 L947.8 345.7 L948.8 348.4 L949.8 351.1 L950.6 353.2 L950.8 353.3 L951.8 351.9 L952.7 350.6 L952.8 350.7 L953.8 350.3 L954.8 350.6 L955.8 350.8 L956.8 350.6 L957.8 350.6 L958.8 350.7 L959.8 350.5 L960.8 350.8 L961.8 350.8 L962.8 350.4 L963.8 350.6 L964.8 350.6 L965.8 350.5 L966.8 350.7 L967.8 350.8 L968.8 350.8 L969.8 350.6 L970.8 350.5 L971.8 350.9 L972.8 350.7 L973.8 350.8 L974.8 350.8 L975.8 350.4 L976.8 350.5 L977.8 350.3 L978.8 350.6 L979.8 350.6 L980.8 350.4 L981.8 350.6 L982.8 350.8 L983.8 350.6 L984.8 350.6 L985.8 350.8 L986.8 350.5 L987.8 350.7 L988.8 350.8 L989.8 350.7 L990.8 350.2 L991.8 350.6 L992.8 350.5 L993.8 350.6 L994.8 350.3 L995.8 350.8 L996.8 350.5 L997.8 350.9 L998.8 350.7 L999.8 350.7 L1000.8 350.5 L1001.8 350.9 L1002.8 350.5 L1003.8 350.8 L1004.8 350.5 L1005.8 350.3 L1006.8 350.6 L1007.8 350.5 L1008.8 350.3 L1009.8 350.7 L1010.8 350.5 L1011.8 350.4 L1012.8 350.8 L1013.8 350.8 L1014.8 350.6 L1015.8 350.5 L1016.8 350.7 L1017.8 350.7 L1018.8 350.8 L1019.8 350.6 L1020.8 350.6 L1021.8 350.7 L1022.8 350.4 L1023.8 350.3 L1024.8 350.5 L1025.8 350.6 L1026.8 350.7 L1027.8 350.8 L1028.8 350.6 L1029.8 350.8 L1030.8 350.5 L1031.8 350.7 L1032.8 350.5 L1033.8 350.9 L1034.8 350.9 L1035.8 350.7 L1036.8 350.7 L1037.8 350.4 L1038.8 350.7 L1039.8 350.3 L1040.8 350.5 L1041.8 350.5 L1042.8 350.8 L1043.8 350.5 L1044.8 350.5 L1045.8 350.4 L1046.8 350.8 L1047.8 350.5 L1048.8 350.8 L1049.8 350.5 L1050.8 350.7 L1051.8 350.4 L1052.8 350.8 L1053.8 350.9 L1054.8 350.9 L1055.8 350.8 L1056.8 350.9 L1057.8 350.9 L1058.8 350.8 L1059.8 350.4 L1060.8 350.7 L1061.8 350.6 L1062.8 350.4 L1063.8 350.3 L1064.8 350.8 L1065.8 350.6 L1066.8 350.7 L1067.8 351 L1068.8 350.8 L1069.8 350.6 L1070.8 350.8 L1071.8 350.6 L1072.8 350.4 L1073.8 350.6 L1074.8 350.6 L1075.8 350.3 L1076.8 350.6 L1077.8 350.6 L1078.8 350.6 L1079.8 350.5 L1080.8 350.8 L1081.8 350.6 L1082.8 350.6 L1083.8 350.9 L1084.8 350.6 L1085.8 350.4 L1086.8 350.7 L1087.8 350.8 L1088.8 350.4 L1089.8 350.4 L1090.8 350.5 L1091.8 350.6 L1092.8 350.3 L1093.8 350.7 L1094.8 350.5 L1095.8 350.9 L1096.8 350.6 L1097.8 350.9 L1098.8 350.7 L1099.8 350.8 L1100.8 350.4 L1101.8 350.5 L1102.8 350.5 L1103.8 350.5 L1104.8 350.4 L1105.8 350.5 L1106.8 350.3 L1107.8 350.5 L1108.8 350.8 L1109.8 350.7 L1110.8 350.6 L1111.8 350.9 L1112.8 350.8 L1113.8 350.8 L1114.8 350.7 L1115.8 350.5 L1116.8 350.9 L1117.8 350.9 L1118.8 350.8 L1119.8 350.6 L1120.8 350.7 L1121.8 350.7 L1122.8 350.7 L1123.8 350.6 L1124.8 350.3 L1125.8 350.8 L1126.8 350.7 L1127.8 350.7 L1128.8 350.7 L1129.8 350.6 L1130.8 350.4 L1131.8 350.7 L1132.8 350.6 L1133.8 350.3 L1134.8 350.8 L1135.8 350.8 L1136.8 350.8 L1137.8 350.6 L1138.8 350.6 L1139.8 350.6 L1139.8 350.6 L1140.8 352.2 L1141.4 353.2 L1141.8 351.7 L1142.8 347.3 L1143.4 344.4 L1143.8 345.9 L1144.8 348.8 L1145.5 351.1 L1145.8 350.1 L1146.8 347 L1147.6 344.4 L1147.8 343.8 L1148.8 341.5 L1149.8 339.8 L1150.2 338.6 L1150.8 341.1 L1151.8 345.4 L1151.8 345.4 L1152.8 343 L1153.8 340.3 L1153.9 340.2 L1154.8 341.4 L1155.8 342.5 L1155.9 342.8 L1156.8 335.3 L1157.8 326.3 L1157.8 326.7 L1158.8 334.8 L1159.6 341.2 L1159.8 341.8 L1160.8 346.1 L1161.7 349.6 L1161.8 349.4 L1162.8 346.8 L1163.8 343.9 L1163.8 344 L1164.8 347.5 L1165.8 350.1 L1165.8 350.1 L1166.8 346.6 L1167.4 344.4 L1167.8 344.9 L1168.8 346.9 L1169.8 348.3 L1170.8 350.2 L1171 350.6 L1171.8 348.8 L1172.8 346.2 L1173.8 343.7 L1174.2 342.8 L1174.8 343.5 L1175.8 345.8 L1176.8 347.3 L1177.8 349.5 L1178.3 350.1 L1178.8 346.8 L1179.8 340.7 L1180.7 335 L1180.8 336 L1181.8 342.7 L1182.8 349.2 L1183 350.6 L1183.8 349.8 L1184.8 348.9 L1185.8 347.7 L1186.7 347 L1186.8 346.5 L1187.8 343.6 L1188.8 341.2 L1188.8 341.3 L1189.8 343.5 L1190.8 345.7 L1190.8 345.9 L1191.8 337.4 L1191.9 336.6 L1192.8 331.1 L1193.8 325.2 L1194.8 319.4 L1194.8 319.6 L1195.8 327.4 L1196.8 335.5 L1197.1 338.1 L1197.8 341.4 L1198.8 346 L1199.7 350.1 L1199.8 349.9 L1200.8 347.2 L1201.8 344.4 L1202.8 341.2 L1202.8 341.4 L1203.8 343.8 L1204.8 345.7 L1205.8 348.2 L1206.5 350.1 L1206.8 347.7 L1207.8 341.2 L1208.8 335 L1208.8 335.2 L1209.8 341.6 L1210.8 348.2 L1211.1 350.1 L1211.8 349 L1212.8 346.6 L1213.8 344.7 L1214.3 343.3 L1214.8 343.1 L1215.8 342.5 L1216.8 341.7 L1217.4 341.2 L1217.8 340.8 L1218.8 339.9 L1219.8 338.8 L1220.5 338.1 L1220.8 335.8 L1221.8 328.3 L1222.6 322.5 L1222.8 324.1 L1223.8 333.2 L1224.7 341.2 L1224.8 341.4 L1225.8 342.7 L1226.8 344.6 L1227.8 345.5 L1228.3 346.5 L1228.8 347 L1229.8 348 L1230.8 349.2 L1231.8 350.5 L1232 350.6 L1232.8 350.8 L1233.8 350.6 L1234.8 350.8 L1235.8 350.9 L1236.8 350.6 L1237.8 350.6 L1238.8 350.6 L1239.8 350.7 L1240.8 350.4 L1241.8 350.7 L1242.8 350.3 L1243.8 350.6 L1244.8 350.6 L1245.8 350.3 L1246.8 350.5 L1247.8 350.8 L1248.8 350.6 L1249.8 350.5 L1250.8 350.7 L1251.8 350.6 L1252.8 350.5 L1253.8 350.4 L1254.8 350.7 L1255.8 350.5 L1256.8 350.3 L1257.8 350.4 L1258.8 350.6 L1259.8 350.4 L1260.8 350.5 L1261.8 350.7 L1262.8 350.4 L1263.8 350.4 L1264.8 350.4 L1265.8 350.7 L1266.8 350.7 L1267.8 350.6 L1268.8 350.5 L1269.8 350.2 L1270.8 350.3 L1271.8 350.4 L1272.8 350.3 L1273.8 350.3 L1274.8 350.3 L1275.8 350.3 L1276.8 350.2 L1277.8 350.5 L1278.8 350.3 L1279.8 350.5 L1280.8 350.5 L1281.8 350.7 L1282.8 350.7 L1283.8 350.5 L1284.8 350.2 L1285.8 350.5 L1286.8 350.5 L1287.8 350.4 L1288.8 350.5 L1289.8 350.3 L1290.8 350.3 L1291.8 350.4 L1292.8 350.2 L1293.8 350.6 L1294.8 350.4 L1295.8 350.7 L1296.8 350.6 L1297.8 350.6 L1298.8 350.3 L1299.8 350.5 L1300.8 350.6 L1301.8 350.5 L1302.1 350.4" fill="none" stroke="#000" stroke-width="3.0" stroke-linejoin="round" stroke-linecap="round"/>
<text x="328.5" y="232" font-size="33.5" fill="#0571bd" text-anchor="start" >1</text>
<text x="327" y="276.8" font-size="33.5" fill="#0571bd" text-anchor="start" >2</text>
<text x="327" y="315.8" font-size="33.5" fill="#0571bd" text-anchor="start" >3</text>
<text x="252" y="355" font-size="33.5" fill="#000" text-anchor="start" >Wheel</text>
<rect x="498.2" y="385" width="59.5" height="10.5" fill="#f30808"/>
<rect x="876" y="385" width="75.6" height="10" fill="#f30808"/>
<rect x="1141.7" y="385" width="91.7" height="10" fill="#f30808"/>
<text x="1103" y="429.6" font-size="37" fill="#f30808" text-anchor="start" font-style="italic" textLength="177" lengthAdjust="spacingAndGlyphs">Locomotion</text>
<rect x="361" y="391" width="76.8" height="3" fill="#222"/>
<text x="375.5" y="428.6" font-size="37" fill="#000" text-anchor="start" >20s</text>
<rect x="801.7" y="206.3" width="3.4" height="45.7" fill="#000"/>
<rect x="801.7" y="342.2" width="3.4" height="16.5" fill="#000"/>
<rect x="1308.6" y="217.9" width="3.3" height="53.9" fill="#000"/>
<rect x="1308.6" y="345" width="3.3" height="12.6" fill="#000"/>
<text x="809.5" y="190.3" font-size="36" fill="#000" text-anchor="start" transform="rotate(90 809.5 190.3)" textLength="96.3" lengthAdjust="spacingAndGlyphs">5 ΔF/F</text>
<text x="809.5" y="310.5" font-size="36" fill="#000" text-anchor="start" transform="rotate(90 809.5 310.5)" textLength="82.3" lengthAdjust="spacingAndGlyphs">5cm/s</text>
<text x="1318.6" y="197.3" font-size="33" fill="#000" text-anchor="start" transform="rotate(90 1318.6 197.3)" textLength="212" lengthAdjust="spacingAndGlyphs">5 ΔF/F 10cm/s</text>
<text x="3" y="532" font-size="69" fill="#000" text-anchor="start" >c</text>
<path d="M119.4 1031.5 V545.6" stroke="#231f20" stroke-width="3.2" fill="none"/>
<path d="M113.5 547.0 H120" stroke="#231f20" stroke-width="2.8"/>
<path d="M113.5 643.5 H120" stroke="#231f20" stroke-width="2.8"/>
<path d="M113.5 740.0 H120" stroke="#231f20" stroke-width="2.8"/>
<path d="M113.5 836.5 H120" stroke="#231f20" stroke-width="2.8"/>
<path d="M113.5 933.0 H120" stroke="#231f20" stroke-width="2.8"/>
<path d="M113.5 1029.5 H120" stroke="#231f20" stroke-width="2.8"/>
<path d="M118 1030.5 H840" stroke="#231f20" stroke-width="3" fill="none"/>
<path d="M165.1 1030 V1038" stroke="#231f20" stroke-width="2.8"/>
<path d="M302.9 1030 V1038" stroke="#231f20" stroke-width="2.8"/>
<path d="M440.7 1030 V1038" stroke="#231f20" stroke-width="2.8"/>
<path d="M578.5 1030 V1038" stroke="#231f20" stroke-width="2.8"/>
<path d="M716.3 1030 V1038" stroke="#231f20" stroke-width="2.8"/>
<text x="102.5" y="555.3" font-size="29" fill="#000" text-anchor="end" >100</text>
<text x="102.5" y="651.8" font-size="29" fill="#000" text-anchor="end" >80</text>
<text x="102.5" y="748.3" font-size="29" fill="#000" text-anchor="end" >60</text>
<text x="102.5" y="844.8" font-size="29" fill="#000" text-anchor="end" >40</text>
<text x="102.5" y="941.3" font-size="29" fill="#000" text-anchor="end" >20</text>
<text x="102.5" y="1037.8" font-size="29" fill="#000" text-anchor="end" >0</text>
<text x="59.5" y="785.3" font-size="39.9" text-anchor="middle" transform="rotate(-90 59.5 785.3)">% Visually Responsive</text>
<text x="391" y="1140" font-size="39.5" fill="#000" text-anchor="start" >Age (days)</text>
<text x="744.5" y="1018" font-size="45.5" fill="#0070bc" text-anchor="start" >SST</text>
<text x="184.1" y="1064.0" font-size="35" text-anchor="end" transform="rotate(-48 184.1 1064.0)">P15</text>
<text x="321.9" y="1064.0" font-size="35" text-anchor="end" transform="rotate(-48 321.9 1064.0)">P18</text>
<text x="459.7" y="1064.0" font-size="35" text-anchor="end" transform="rotate(-48 459.7 1064.0)">P21</text>
<text x="597.5" y="1064.0" font-size="35" text-anchor="end" transform="rotate(-48 597.5 1064.0)">P24</text>
<text x="735.3" y="1064.0" font-size="35" text-anchor="end" transform="rotate(-48 735.3 1064.0)">P27</text>
<g fill="#62bdeb"><circle cx="165.1" cy="766.2" r="5.6"/><circle cx="165.1" cy="772.3" r="5.6"/><circle cx="165.1" cy="984.3" r="5.6"/><circle cx="165.1" cy="1003.6" r="5.6"/><circle cx="165.1" cy="1029.7" r="5.6"/><circle cx="211.0" cy="546.5" r="5.6"/><circle cx="211.0" cy="868.9" r="5.6"/><circle cx="211.0" cy="961.2" r="5.6"/><circle cx="211.0" cy="970.0" r="5.6"/><circle cx="211.0" cy="1002.5" r="5.6"/><circle cx="211.0" cy="1008.5" r="5.6"/><circle cx="257.0" cy="634.6" r="5.6"/><circle cx="257.0" cy="707.9" r="5.6"/><circle cx="257.0" cy="915.5" r="5.6"/><circle cx="257.0" cy="922.6" r="5.6"/><circle cx="302.9" cy="573.2" r="5.6"/><circle cx="302.9" cy="697.4" r="5.6"/><circle cx="302.9" cy="740.0" r="5.6"/><circle cx="302.9" cy="818.5" r="5.6"/><circle cx="302.9" cy="947.4" r="5.6"/><circle cx="302.9" cy="995.6" r="5.6"/><circle cx="348.8" cy="546.5" r="5.6"/><circle cx="348.8" cy="570.7" r="5.6"/><circle cx="348.8" cy="637.4" r="5.6"/><circle cx="348.8" cy="680.9" r="5.6"/><circle cx="348.8" cy="788.5" r="5.6"/><circle cx="348.8" cy="955.7" r="5.6"/><circle cx="348.8" cy="973.6" r="5.6"/><circle cx="394.8" cy="569.4" r="5.6"/><circle cx="394.8" cy="580.1" r="5.6"/><circle cx="394.8" cy="592.8" r="5.6"/><circle cx="394.8" cy="862.0" r="5.6"/><circle cx="394.8" cy="885.2" r="5.6"/><circle cx="440.7" cy="622.8" r="5.6"/><circle cx="440.7" cy="634.6" r="5.6"/><circle cx="440.7" cy="650.3" r="5.6"/><circle cx="440.7" cy="675.9" r="5.6"/><circle cx="440.7" cy="800.6" r="5.6"/><circle cx="440.7" cy="825.4" r="5.6"/><circle cx="486.6" cy="546.5" r="5.6"/><circle cx="486.6" cy="603.4" r="5.6"/><circle cx="486.6" cy="618.5" r="5.6"/><circle cx="486.6" cy="807.0" r="5.6"/><circle cx="532.5" cy="546.5" r="5.6"/><circle cx="532.5" cy="580.8" r="5.6"/><circle cx="532.5" cy="585.1" r="5.6"/><circle cx="532.5" cy="590.1" r="5.6"/><circle cx="532.5" cy="667.3" r="5.6"/><circle cx="532.5" cy="683.8" r="5.6"/><circle cx="532.5" cy="689.6" r="5.6"/><circle cx="578.5" cy="546.5" r="5.6"/><circle cx="578.5" cy="575.0" r="5.6"/><circle cx="578.5" cy="586.6" r="5.6"/><circle cx="578.5" cy="629.5" r="5.6"/><circle cx="578.5" cy="712.8" r="5.6"/><circle cx="624.4" cy="546.5" r="5.6"/><circle cx="624.4" cy="564.0" r="5.6"/><circle cx="624.4" cy="631.6" r="5.6"/><circle cx="624.4" cy="676.5" r="5.6"/><circle cx="670.3" cy="575.0" r="5.6"/><circle cx="670.3" cy="586.6" r="5.6"/><circle cx="670.3" cy="599.6" r="5.6"/><circle cx="670.3" cy="606.0" r="5.6"/><circle cx="670.3" cy="629.8" r="5.6"/><circle cx="670.3" cy="922.2" r="5.6"/><circle cx="716.3" cy="575.6" r="5.6"/><circle cx="716.3" cy="614.7" r="5.6"/><circle cx="716.3" cy="620.8" r="5.6"/><circle cx="716.3" cy="656.8" r="5.6"/><circle cx="716.3" cy="739.8" r="5.6"/><circle cx="762.2" cy="586.6" r="5.6"/><circle cx="762.2" cy="615.6" r="5.6"/><circle cx="762.2" cy="666.4" r="5.6"/><circle cx="762.2" cy="672.8" r="5.6"/><circle cx="808.1" cy="546.5" r="5.6"/><circle cx="808.1" cy="577.3" r="5.6"/><circle cx="808.1" cy="611.3" r="5.6"/><circle cx="808.1" cy="643.2" r="5.6"/></g>
<g fill="#0070bc"><rect x="163.1" y="853.0" width="4" height="117.0"/><rect x="209.0" y="820.7" width="4" height="144.3"/><rect x="255.0" y="770.9" width="4" height="101.3"/><rect x="300.9" y="731.0" width="4" height="129.4"/><rect x="346.8" y="670.4" width="4" height="131.6"/><rect x="392.8" y="627.7" width="4" height="105.2"/><rect x="438.7" y="665.5" width="4" height="72.4"/><rect x="484.6" y="601.1" width="4" height="72.0"/><rect x="530.5" y="602.5" width="4" height="37.8"/><rect x="576.5" y="591.8" width="4" height="34.5"/><rect x="622.4" y="589.5" width="4" height="31.9"/><rect x="668.3" y="607.8" width="4" height="79.8"/><rect x="714.3" y="617.9" width="4" height="45.0"/><rect x="760.2" y="621.4" width="4" height="31.4"/><rect x="806.1" y="574.1" width="4" height="41.5"/><circle cx="165.1" cy="914.9" r="14.5"/><circle cx="211.0" cy="899.2" r="14.5"/><circle cx="257.0" cy="823.5" r="14.5"/><circle cx="302.9" cy="797.9" r="14.5"/><circle cx="348.8" cy="741.5" r="14.5"/><circle cx="394.8" cy="680.9" r="14.5"/><circle cx="440.7" cy="702.9" r="14.5"/><circle cx="486.6" cy="636.8" r="14.5"/><circle cx="532.5" cy="622.3" r="14.5"/><circle cx="578.5" cy="608.4" r="14.5"/><circle cx="624.4" cy="605.5" r="14.5"/><circle cx="670.3" cy="643.8" r="14.5"/><circle cx="716.3" cy="641.1" r="14.5"/><circle cx="762.2" cy="636.8" r="14.5"/><circle cx="808.1" cy="596.7" r="14.5"/></g>
<text x="850" y="532" font-size="69" fill="#000" text-anchor="start" >d</text>
<path d="M1017.6 1022.0 V547.0" stroke="#231f20" stroke-width="3" fill="none"/>
<path d="M1003.5 547.5 H1018" stroke="#231f20" stroke-width="2.8"/>
<path d="M1003.5 642.1 H1018" stroke="#231f20" stroke-width="2.8"/>
<path d="M1003.5 736.7 H1018" stroke="#231f20" stroke-width="2.8"/>
<path d="M1003.5 831.3 H1018" stroke="#231f20" stroke-width="2.8"/>
<path d="M1003.5 925.9 H1018" stroke="#231f20" stroke-width="2.8"/>
<path d="M1003.5 1020.5 H1018" stroke="#231f20" stroke-width="2.8"/>
<path d="M1023.5 1031.4 H1337" stroke="#231f20" stroke-width="3" fill="none"/>
<path d="M1055.8 1031.4 V1039.4" stroke="#231f20" stroke-width="2.8"/>
<path d="M1116.8 1031.4 V1039.4" stroke="#231f20" stroke-width="2.8"/>
<path d="M1177.5 1031.4 V1039.4" stroke="#231f20" stroke-width="2.8"/>
<path d="M1238.3 1031.4 V1039.4" stroke="#231f20" stroke-width="2.8"/>
<path d="M1299.6 1031.4 V1039.4" stroke="#231f20" stroke-width="2.8"/>
<text x="989.5" y="555.8" font-size="29" fill="#000" text-anchor="end" >100</text>
<text x="989.5" y="650.4" font-size="29" fill="#000" text-anchor="end" >80</text>
<text x="989.5" y="745" font-size="29" fill="#000" text-anchor="end" >60</text>
<text x="989.5" y="839.6" font-size="29" fill="#000" text-anchor="end" >40</text>
<text x="989.5" y="934.2" font-size="29" fill="#000" text-anchor="end" >20</text>
<text x="989.5" y="1028.8" font-size="29" fill="#000" text-anchor="end" >0</text>
<text x="929.0" y="740.0" font-size="39.9" text-anchor="middle" transform="rotate(-90 929.0 740.0)">% Visually Responsive</text>
<text x="1074.8" y="1060.4" font-size="33.5" text-anchor="end" transform="rotate(-46 1074.8 1060.4)">P15-17</text>
<text x="1135.8" y="1060.4" font-size="33.5" text-anchor="end" transform="rotate(-46 1135.8 1060.4)">P18-20</text>
<text x="1196.5" y="1060.4" font-size="33.5" text-anchor="end" transform="rotate(-46 1196.5 1060.4)">P21-23</text>
<text x="1257.3" y="1060.4" font-size="33.5" text-anchor="end" transform="rotate(-46 1257.3 1060.4)">P24-26</text>
<text x="1318.6" y="1060.4" font-size="33.5" text-anchor="end" transform="rotate(-46 1318.6 1060.4)">P27-29</text>
<rect x="1053.0" y="633.7" width="5.5" height="387.3" fill="#47a3dd"/>
<rect x="1040.5" y="756.0" width="30.5" height="205.6" fill="#9dcbea"/>
<rect x="1040.5" y="858.7" width="30.5" height="8.6" fill="#4a72d6"/>
<rect x="1114.0" y="571.2" width="5.5" height="359.9" fill="#47a3dd"/>
<rect x="1101.5" y="593.6" width="30.5" height="231.7" fill="#9dcbea"/>
<rect x="1101.5" y="666.7" width="30.5" height="8.6" fill="#4a72d6"/>
<rect x="1174.8" y="572.3" width="5.5" height="223.9" fill="#47a3dd"/>
<rect x="1162.2" y="610.2" width="30.5" height="84.1" fill="#9dcbea"/>
<rect x="1162.2" y="678.2" width="30.5" height="8.6" fill="#4a72d6"/>
<rect x="1235.5" y="576.7" width="5.5" height="51.8" fill="#47a3dd"/>
<rect x="1223.0" y="600.6" width="30.5" height="25.7" fill="#9dcbea"/>
<rect x="1223.0" y="602.3" width="30.5" height="8.6" fill="#4a72d6"/>
<rect x="1296.8" y="576.0" width="5.5" height="113.2" fill="#47a3dd"/>
<rect x="1284.3" y="583.3" width="30.5" height="63.2" fill="#9dcbea"/>
<rect x="1284.3" y="617.2" width="30.5" height="8.6" fill="#4a72d6"/>
<path d="M1050.3 555.0 H1119.4" stroke="#000" stroke-width="3"/>
<path d="M1048.5 530.0 H1180.8" stroke="#000" stroke-width="3"/>
<path d="M1048.5 507.6 H1240.3" stroke="#000" stroke-width="3"/>
<path d="M1048.5 485.2 H1306.4" stroke="#000" stroke-width="3"/>
<text x="1085.6" y="564" font-size="39" fill="#000" text-anchor="middle" letter-spacing="2.2">*</text>
<text x="1117.8" y="540" font-size="39" fill="#000" text-anchor="middle" letter-spacing="2.2">**</text>
<text x="1148" y="518.2" font-size="39" fill="#000" text-anchor="middle" letter-spacing="2.2">***</text>
<text x="1174.1" y="495" font-size="39" fill="#000" text-anchor="middle" letter-spacing="2.2">**</text>
<text x="2" y="1188.5" font-size="69" fill="#000" text-anchor="start" >e</text>
<path d="M118.8 1692 V1206" stroke="#231f20" stroke-width="3.2" fill="none"/>
<path d="M113 1207.4 H120" stroke="#231f20" stroke-width="2.8"/>
<path d="M113 1304.0 H120" stroke="#231f20" stroke-width="2.8"/>
<path d="M113 1400.7 H120" stroke="#231f20" stroke-width="2.8"/>
<path d="M113 1497.3 H120" stroke="#231f20" stroke-width="2.8"/>
<path d="M113 1594.0 H120" stroke="#231f20" stroke-width="2.8"/>
<path d="M113 1690.5 H120" stroke="#231f20" stroke-width="2.8"/>
<path d="M118 1690.5 H840.7" stroke="#231f20" stroke-width="3" fill="none"/>
<path d="M166.6 1690 V1698" stroke="#231f20" stroke-width="2.8"/>
<path d="M304.7 1690 V1698" stroke="#231f20" stroke-width="2.8"/>
<path d="M441.8 1690 V1698" stroke="#231f20" stroke-width="2.8"/>
<path d="M579.9 1690 V1698" stroke="#231f20" stroke-width="2.8"/>
<path d="M717.2 1690 V1698" stroke="#231f20" stroke-width="2.8"/>
<text x="102.5" y="1215.7" font-size="29" fill="#000" text-anchor="end" >100</text>
<text x="102.5" y="1312.3" font-size="29" fill="#000" text-anchor="end" >80</text>
<text x="102.5" y="1409" font-size="29" fill="#000" text-anchor="end" >60</text>
<text x="102.5" y="1505.6" font-size="29" fill="#000" text-anchor="end" >40</text>
<text x="102.5" y="1602.3" font-size="29" fill="#000" text-anchor="end" >20</text>
<text x="102.5" y="1698.8" font-size="29" fill="#000" text-anchor="end" >0</text>
<text x="60.5" y="1444.5" font-size="39.9" text-anchor="middle" transform="rotate(-90 60.5 1444.5)">% Visually Responsive</text>
<text x="392" y="1795" font-size="39.5" fill="#000" text-anchor="start" >Age (days)</text>
<text x="763" y="1678.5" font-size="45.5" fill="#000" text-anchor="start" >PN</text>
<text x="190.1" y="1718.5" font-size="35" text-anchor="end" transform="rotate(-48 190.1 1718.5)">P15</text>
<text x="328.2" y="1718.5" font-size="35" text-anchor="end" transform="rotate(-48 328.2 1718.5)">P18</text>
<text x="465.3" y="1718.5" font-size="35" text-anchor="end" transform="rotate(-48 465.3 1718.5)">P21</text>
<text x="603.4" y="1718.5" font-size="35" text-anchor="end" transform="rotate(-48 603.4 1718.5)">P24</text>
<text x="740.7" y="1718.5" font-size="35" text-anchor="end" transform="rotate(-48 740.7 1718.5)">P27</text>
<g fill="#a3a3a3"><circle cx="163.7" cy="1530.9" r="6"/><circle cx="163.7" cy="1572.7" r="6"/><circle cx="211.6" cy="1484.0" r="6"/><circle cx="211.6" cy="1513.0" r="6"/><circle cx="211.6" cy="1604.4" r="6"/><circle cx="259.4" cy="1514.3" r="6"/><circle cx="259.4" cy="1550.1" r="6"/><circle cx="259.4" cy="1602.4" r="6"/><circle cx="259.4" cy="1632.7" r="6"/><circle cx="259.4" cy="1638.2" r="6"/><circle cx="307.3" cy="1530.3" r="6"/><circle cx="307.3" cy="1540.5" r="6"/><circle cx="307.3" cy="1620.3" r="6"/><circle cx="355.1" cy="1519.8" r="6"/><circle cx="355.1" cy="1549.3" r="6"/><circle cx="403.0" cy="1480.5" r="6"/><circle cx="403.0" cy="1504.7" r="6"/><circle cx="403.0" cy="1510.2" r="6"/><circle cx="403.0" cy="1546.0" r="6"/><circle cx="403.0" cy="1579.9" r="6"/><circle cx="403.0" cy="1590.1" r="6"/><circle cx="450.9" cy="1515.7" r="6"/><circle cx="450.9" cy="1520.7" r="6"/><circle cx="450.9" cy="1609.3" r="6"/><circle cx="498.7" cy="1455.4" r="6"/><circle cx="498.7" cy="1548.8" r="6"/><circle cx="498.7" cy="1555.5" r="6"/><circle cx="498.7" cy="1564.8" r="6"/><circle cx="546.6" cy="1496.6" r="6"/><circle cx="546.6" cy="1538.1" r="6"/><circle cx="594.4" cy="1430.9" r="6"/><circle cx="594.4" cy="1480.6" r="6"/><circle cx="594.4" cy="1508.2" r="6"/><circle cx="594.4" cy="1566.2" r="6"/><circle cx="642.3" cy="1438.0" r="6"/><circle cx="642.3" cy="1541.6" r="6"/><circle cx="642.3" cy="1551.1" r="6"/><circle cx="690.2" cy="1404.8" r="6"/><circle cx="690.2" cy="1551.1" r="6"/><circle cx="690.2" cy="1570.0" r="6"/><circle cx="690.2" cy="1580.7" r="6"/><circle cx="738.0" cy="1486.4" r="6"/><circle cx="738.0" cy="1519.8" r="6"/><circle cx="738.0" cy="1536.6" r="6"/><circle cx="785.9" cy="1519.8" r="6"/></g>
<g fill="#000"><rect x="209.4" y="1512.1" width="4.4" height="39.9"/><rect x="257.2" y="1563.3" width="4.4" height="48.2"/><rect x="305.1" y="1540.5" width="4.4" height="39.9"/><rect x="400.8" y="1517.6" width="4.4" height="34.7"/><rect x="448.7" y="1525.4" width="4.4" height="42.1"/><rect x="496.5" y="1512.0" width="4.4" height="39.1"/><rect x="592.2" y="1469.0" width="4.4" height="56.0"/><rect x="640.1" y="1492.2" width="4.4" height="40.1"/><rect x="688.0" y="1496.0" width="4.4" height="63.0"/><circle cx="163.7" cy="1552.3" r="14.3"/><circle cx="211.6" cy="1531.7" r="14.3"/><circle cx="259.4" cy="1588.7" r="14.3"/><circle cx="307.3" cy="1562.0" r="14.3"/><circle cx="355.1" cy="1535.5" r="14.3"/><circle cx="403.0" cy="1533.6" r="14.3"/><circle cx="450.9" cy="1546.0" r="14.3"/><circle cx="498.7" cy="1531.4" r="14.3"/><circle cx="546.6" cy="1514.9" r="14.3"/><circle cx="594.4" cy="1496.0" r="14.3"/><circle cx="642.3" cy="1512.5" r="14.3"/><circle cx="690.2" cy="1526.5" r="14.3"/><circle cx="738.0" cy="1504.4" r="14.3"/><circle cx="785.9" cy="1503.3" r="14.3"/><circle cx="833.7" cy="1535.8" r="14.3"/></g>
<text x="876" y="1187.7" font-size="69" fill="#000" text-anchor="start" >f</text>
<path d="M1017.6 1683.0 V1207.0" stroke="#231f20" stroke-width="3" fill="none"/>
<path d="M1003.5 1207.6 H1018" stroke="#231f20" stroke-width="2.8"/>
<path d="M1003.5 1302.4 H1018" stroke="#231f20" stroke-width="2.8"/>
<path d="M1003.5 1397.2 H1018" stroke="#231f20" stroke-width="2.8"/>
<path d="M1003.5 1492.0 H1018" stroke="#231f20" stroke-width="2.8"/>
<path d="M1003.5 1586.8 H1018" stroke="#231f20" stroke-width="2.8"/>
<path d="M1003.5 1681.6 H1018" stroke="#231f20" stroke-width="2.8"/>
<path d="M1023.5 1692.1 H1337" stroke="#231f20" stroke-width="3" fill="none"/>
<path d="M1054.7 1692.1 V1700.1" stroke="#231f20" stroke-width="2.8"/>
<path d="M1115.3 1692.1 V1700.1" stroke="#231f20" stroke-width="2.8"/>
<path d="M1176.3 1692.1 V1700.1" stroke="#231f20" stroke-width="2.8"/>
<path d="M1237.0 1692.1 V1700.1" stroke="#231f20" stroke-width="2.8"/>
<path d="M1297.6 1692.1 V1700.1" stroke="#231f20" stroke-width="2.8"/>
<text x="989.5" y="1215.9" font-size="29" fill="#000" text-anchor="end" >100</text>
<text x="989.5" y="1310.7" font-size="29" fill="#000" text-anchor="end" >80</text>
<text x="989.5" y="1405.5" font-size="29" fill="#000" text-anchor="end" >60</text>
<text x="989.5" y="1500.3" font-size="29" fill="#000" text-anchor="end" >40</text>
<text x="989.5" y="1595.1" font-size="29" fill="#000" text-anchor="end" >20</text>
<text x="989.5" y="1689.9" font-size="29" fill="#000" text-anchor="end" >0</text>
<text x="929.0" y="1405.0" font-size="39.9" text-anchor="middle" transform="rotate(-90 929.0 1405.0)">% Visually Responsive</text>
<text x="1073.7" y="1721.1" font-size="33.5" text-anchor="end" transform="rotate(-46 1073.7 1721.1)">P15-17</text>
<text x="1134.3" y="1721.1" font-size="33.5" text-anchor="end" transform="rotate(-46 1134.3 1721.1)">P18-20</text>
<text x="1195.3" y="1721.1" font-size="33.5" text-anchor="end" transform="rotate(-46 1195.3 1721.1)">P21-23</text>
<text x="1256.0" y="1721.1" font-size="33.5" text-anchor="end" transform="rotate(-46 1256.0 1721.1)">P24-26</text>
<text x="1316.6" y="1721.1" font-size="33.5" text-anchor="end" transform="rotate(-46 1316.6 1721.1)">P27-29</text>
<rect x="1052.0" y="1482.3" width="5.5" height="147.7" fill="#000"/>
<rect x="1039.5" y="1513.5" width="30.5" height="80.9" fill="#a9a9a9"/>
<rect x="1039.5" y="1540.5" width="30.5" height="8.6" fill="#000"/>
<rect x="1112.5" y="1477.9" width="5.5" height="105.4" fill="#000"/>
<rect x="1100.0" y="1514.2" width="30.5" height="38.6" fill="#a9a9a9"/>
<rect x="1100.0" y="1535.5" width="30.5" height="8.6" fill="#000"/>
<rect x="1173.5" y="1494.4" width="5.5" height="64.3" fill="#000"/>
<rect x="1161.0" y="1513.5" width="30.5" height="33.8" fill="#a9a9a9"/>
<rect x="1161.0" y="1528.3" width="30.5" height="8.6" fill="#000"/>
<rect x="1234.2" y="1404.6" width="5.5" height="170.3" fill="#000"/>
<rect x="1221.8" y="1481.2" width="30.5" height="65.4" fill="#a9a9a9"/>
<rect x="1221.8" y="1515.3" width="30.5" height="8.6" fill="#000"/>
<rect x="1294.8" y="1485.2" width="5.5" height="52.2" fill="#000"/>
<rect x="1282.3" y="1499.9" width="30.5" height="32.7" fill="#a9a9a9"/>
<rect x="1282.3" y="1509.8" width="30.5" height="8.6" fill="#000"/>
<path d="M1050.3 1245.5 H1119.4" stroke="#000" stroke-width="3"/>
<path d="M1048.5 1219.7 H1180.8" stroke="#000" stroke-width="3"/>
<path d="M1048.5 1197.7 H1240.3" stroke="#000" stroke-width="3"/>
<path d="M1048.5 1175.3 H1306.4" stroke="#000" stroke-width="3"/>
<text x="1082.5" y="1241" font-size="27" fill="#000" text-anchor="middle" >n.s.</text>
<text x="1125.5" y="1216" font-size="27" fill="#000" text-anchor="middle" >n.s.</text>
<text x="1144.4" y="1206" font-size="39" fill="#000" text-anchor="middle" letter-spacing="2.2">*</text>
<text x="1174.5" y="1184.3" font-size="39" fill="#000" text-anchor="middle" letter-spacing="2.2">*</text>
</svg></body></html>
